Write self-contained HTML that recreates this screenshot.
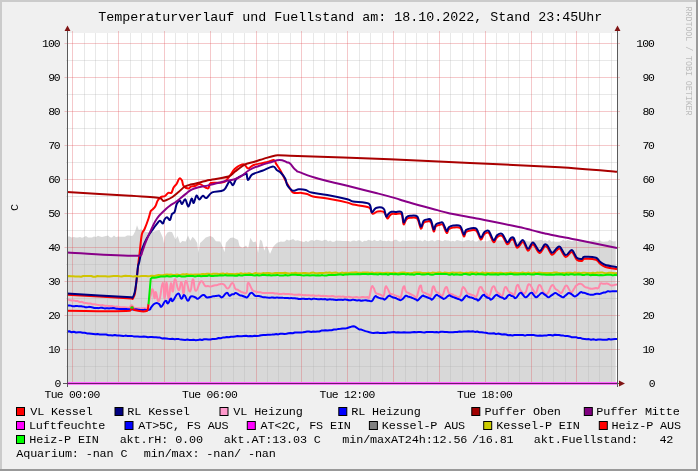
<!DOCTYPE html><html><head><meta charset="utf-8"><style>html,body{margin:0;padding:0;background:#f0f0f0;overflow:hidden}svg{display:block;will-change:transform}</style></head><body><svg width="698" height="471" viewBox="0 0 698 471"><rect x="0" y="0" width="698" height="471" fill="#f0f0f0"/><rect x="0" y="0" width="698" height="2" fill="#cbcbcb"/><rect x="0" y="0" width="2" height="471" fill="#cbcbcb"/><rect x="0" y="469" width="698" height="2" fill="#999999"/><rect x="696" y="0" width="2" height="471" fill="#999999"/><rect x="67" y="33" width="550" height="350" fill="#ffffff"/><path d="M67.5,383.5 L67.5,236.5 L69.6,236.6 L71.7,237.4 L73.8,237.0 L75.8,237.6 L77.9,237.5 L80.0,237.0 L82.0,237.8 L84.0,237.1 L86.0,235.9 L88.0,237.4 L90.0,237.6 L92.0,237.4 L94.0,236.6 L96.0,236.9 L98.0,235.7 L100.0,236.5 L102.0,237.1 L104.0,236.5 L106.0,235.9 L108.0,235.5 L110.0,237.2 L112.0,237.6 L114.0,235.6 L116.0,237.2 L118.0,236.4 L120.0,236.8 L125.0,236.8 L127.1,235.6 L129.2,235.6 L131.3,236.0 L133.0,235.6 L135.3,231.0 L137.0,225.3 L138.8,229.9 L141.0,229.3 L146.0,232.0 L151.4,232.2 L155.9,231.0 L159.4,229.9 L162.8,237.5 L164.0,243.7 L165.1,236.6 L167.4,232.4 L169.7,231.8 L172.0,232.1 L175.4,239.4 L177.7,236.1 L180.0,243.2 L182.3,241.0 L185.7,241.6 L188.0,235.6 L190.3,240.7 L192.6,236.8 L194.9,239.3 L197.2,243.0 L198.4,253.0 L200.1,243.1 L201.8,241.4 L205.8,237.6 L210.1,236.1 L213.0,237.2 L215.9,241.2 L220.2,241.6 L223.0,247.7 L224.5,252.2 L225.9,242.8 L230.2,237.9 L233.1,237.6 L238.1,240.0 L239.5,246.1 L242.4,247.9 L246.0,245.6 L248.1,248.5 L250.3,237.8 L253.1,242.2 L256.0,241.4 L258.1,253.1 L260.0,239.4 L262.0,241.0 L264.3,250.7 L266.0,245.7 L267.9,248.2 L270.0,254.1 L272.9,247.2 L275.0,244.8 L277.2,242.8 L280.8,241.6 L282.8,241.7 L284.8,241.6 L286.8,239.5 L288.8,240.4 L290.8,240.0 L293.1,239.0 L295.4,240.8 L297.7,240.2 L300.0,241.0 L302.0,241.6 L304.0,241.9 L306.0,240.8 L308.0,241.9 L310.1,240.4 L312.1,239.9 L314.1,241.0 L316.1,239.8 L318.1,240.1 L320.1,240.6 L322.1,241.0 L324.1,240.0 L326.1,239.8 L328.2,241.6 L330.2,240.4 L332.2,241.8 L334.2,241.7 L336.2,240.5 L338.2,240.7 L340.2,240.8 L342.2,241.1 L344.2,241.0 L346.2,240.9 L348.3,241.1 L350.3,241.8 L352.3,240.8 L354.3,240.6 L356.3,241.3 L358.3,240.2 L360.3,240.4 L362.3,241.9 L364.3,240.8 L366.4,240.9 L368.4,239.7 L370.4,240.6 L372.4,241.0 L374.4,239.7 L376.4,241.1 L378.4,241.1 L380.4,239.8 L382.4,241.1 L384.5,240.7 L386.5,241.2 L388.5,240.5 L390.5,241.3 L392.5,241.3 L394.5,239.7 L396.5,239.8 L398.5,241.2 L400.5,241.8 L402.6,240.3 L404.6,240.7 L406.6,241.0 L408.6,240.4 L410.6,240.5 L412.6,240.4 L414.6,240.5 L416.6,241.0 L418.6,240.4 L420.6,240.5 L422.7,241.4 L424.7,239.8 L426.7,241.0 L428.7,241.3 L430.7,240.4 L432.7,240.2 L434.7,241.5 L436.7,240.2 L438.7,240.1 L440.8,240.7 L442.8,241.2 L444.8,239.9 L446.8,240.4 L448.8,240.4 L450.8,241.5 L452.8,240.7 L454.8,241.6 L456.8,240.1 L458.9,240.4 L460.9,241.1 L462.9,241.6 L464.9,240.7 L466.9,240.2 L468.9,240.0 L470.9,240.9 L472.9,240.1 L474.9,241.5 L477.0,241.5 L479.0,240.1 L481.0,240.3 L483.0,241.5 L485.0,241.1 L487.0,241.5 L489.0,240.5 L491.0,240.0 L493.0,240.3 L495.1,241.4 L497.1,240.3 L499.1,240.5 L501.1,240.6 L503.1,240.6 L505.1,240.6 L507.1,241.7 L509.1,240.0 L511.1,239.7 L513.1,241.8 L515.2,241.6 L517.2,241.9 L519.2,240.7 L521.2,241.8 L523.2,241.7 L525.2,240.2 L527.2,241.3 L529.2,241.5 L531.2,241.2 L533.3,240.8 L535.3,240.3 L537.3,240.5 L539.3,240.2 L541.3,239.8 L543.3,241.0 L545.3,240.3 L547.3,241.5 L549.3,239.8 L551.4,241.7 L553.4,241.2 L555.4,241.7 L557.4,241.7 L559.4,241.7 L561.4,241.0 L563.4,239.7 L565.4,241.3 L567.4,240.1 L569.5,240.4 L571.5,241.2 L573.5,240.9 L575.5,240.6 L577.5,241.8 L579.5,241.0 L581.5,240.5 L583.5,240.3 L585.5,241.6 L587.5,240.7 L589.6,241.4 L591.6,240.5 L593.6,240.1 L595.6,240.9 L597.6,241.5 L599.6,240.1 L601.6,241.4 L603.6,241.7 L605.6,241.5 L607.7,241.5 L609.7,239.7 L611.7,241.1 L613.7,241.6 L615.7,241.0 L615.7,383.5 Z" fill="#d8d8d8"/><path d="M84.5 33V383 M95.5 33V383 M107.5 33V383 M130.5 33V383 M141.5 33V383 M152.5 33V383 M175.5 33V383 M187.5 33V383 M198.5 33V383 M221.5 33V383 M233.5 33V383 M244.5 33V383 M267.5 33V383 M278.5 33V383 M290.5 33V383 M313.5 33V383 M324.5 33V383 M336.5 33V383 M359.5 33V383 M370.5 33V383 M382.5 33V383 M405.5 33V383 M416.5 33V383 M427.5 33V383 M450.5 33V383 M462.5 33V383 M473.5 33V383 M496.5 33V383 M508.5 33V383 M519.5 33V383 M542.5 33V383 M553.5 33V383 M565.5 33V383 M588.5 33V383 M599.5 33V383 M611.5 33V383" stroke="rgb(173,173,173)" stroke-opacity="0.28" stroke-width="1" fill="none"/><path d="M66 366.5H618 M66 332.5H618 M66 298.5H618 M66 264.5H618 M66 230.5H618 M66 196.5H618 M66 162.5H618 M66 128.5H618 M66 94.5H618 M66 60.5H618" stroke="rgb(173,173,173)" stroke-opacity="0.28" stroke-width="1" fill="none"/><path d="M72.5 31V383 M118.5 31V383 M164.5 31V383 M210.5 31V383 M256.5 31V383 M301.5 31V383 M347.5 31V383 M393.5 31V383 M439.5 31V383 M485.5 31V383 M531.5 31V383 M576.5 31V383 M64.5 383.5H620 M64.5 349.5H620 M64.5 315.5H620 M64.5 281.5H620 M64.5 247.5H620 M64.5 213.5H620 M64.5 179.5H620 M64.5 145.5H620 M64.5 111.5H620 M64.5 77.5H620 M64.5 43.5H620" stroke="rgb(222,72,78)" stroke-opacity="0.3" stroke-width="1" fill="none"/><path d="M67.0,294.8 C77.7,295.4 120.3,297.8 131.3,298.4 C133.0,299.0 132.4,299.3 133.0,298.4 C133.6,297.5 134.4,296.4 135.0,293.0 C135.6,289.6 136.3,282.7 136.8,278.0 C137.3,273.3 137.8,269.0 138.2,265.0 C138.6,261.0 138.9,259.1 139.5,254.0 C140.1,248.9 141.0,238.7 141.8,234.5 C142.7,230.3 143.4,231.8 144.6,229.0 C145.8,226.2 147.7,221.0 148.7,218.0 C149.7,215.0 150.1,212.4 150.8,211.0 C151.5,209.6 152.0,210.1 152.8,209.3 C153.6,208.5 154.7,207.4 155.5,206.0 C156.3,204.6 156.7,202.3 157.6,200.8 C158.5,199.3 159.6,197.9 160.8,197.1 C162.0,196.3 163.8,196.7 165.0,196.0 C166.2,195.3 167.1,193.3 168.2,192.8 C169.3,192.3 170.5,193.7 171.4,192.8 C172.3,191.9 172.7,189.0 173.6,187.5 C174.5,186.0 175.7,185.3 176.7,183.8 C177.7,182.3 178.5,179.0 179.4,178.5 C180.3,178.0 181.3,179.3 182.0,180.6 C182.7,181.8 182.5,184.7 183.6,186.0 C184.7,187.3 187.2,188.5 188.4,188.6 C189.6,188.7 189.9,186.9 191.0,186.5 C192.1,186.1 193.6,186.3 194.8,186.0 C196.0,185.7 197.0,184.7 198.0,184.4 C199.0,184.1 199.3,183.8 200.7,184.4 C202.1,185.0 205.2,187.4 206.5,188.0 C207.8,188.6 207.9,188.8 208.6,188.0 C209.3,187.2 208.6,184.0 210.8,183.0 C213.3,182.0 220.4,183.6 223.7,182.2 C227.0,180.8 228.9,176.7 230.8,174.4 C232.7,172.1 232.9,170.3 235.1,168.6 C237.2,166.9 241.5,164.3 243.7,164.3 C245.8,164.3 246.3,168.5 248.0,168.6 C249.7,168.7 250.6,166.1 253.7,165.0 C256.8,163.9 263.2,163.0 266.6,162.2 C270.0,161.4 272.2,159.8 273.8,160.0 C275.4,160.2 274.8,161.7 276.0,163.6 C277.2,165.5 279.2,168.3 281.0,171.5 C282.8,174.7 285.5,180.8 286.7,183.0 C287.9,185.2 287.3,183.8 288.0,185.0 C288.7,186.2 290.1,188.8 291.0,190.1 C291.9,191.4 291.9,192.4 293.6,192.9 C295.4,193.4 299.2,192.7 301.5,192.9 C303.8,193.1 305.3,193.4 307.2,194.0 C309.1,194.6 309.6,195.7 313.0,196.5 C316.4,197.3 321.6,197.6 327.3,198.6 C333.0,199.6 343.1,201.6 347.4,202.6 C351.7,203.6 349.5,203.8 353.1,204.6 C356.7,205.4 365.6,205.8 368.8,207.3 C372.0,208.8 371.0,213.0 372.4,213.7 C373.8,214.4 375.6,211.9 377.4,211.6 C379.2,211.2 381.6,211.1 383.0,211.6 C384.4,212.1 384.8,213.3 385.5,214.5 C386.2,215.7 386.8,218.4 387.5,218.6 C388.2,218.8 388.8,216.5 389.6,215.7 C390.4,214.9 391.5,214.1 392.5,213.8 C393.5,213.5 394.0,213.9 395.5,214.0 C397.0,214.1 400.1,212.5 401.5,214.2 C402.9,215.9 402.8,223.5 403.6,224.3 C404.4,225.1 405.4,220.3 406.5,219.2 C407.6,218.1 408.2,217.9 410.0,217.8 C411.8,217.7 415.4,216.7 417.2,218.5 C419.0,220.3 419.7,227.9 420.8,228.6 C421.9,229.3 422.6,224.0 423.7,222.8 C424.8,221.6 426.1,221.5 427.3,221.4 C428.5,221.3 429.8,220.4 430.9,222.1 C432.0,223.8 432.9,230.7 433.7,231.4 C434.5,232.1 434.8,227.5 435.9,226.4 C437.0,225.3 439.0,224.9 440.2,224.7 C441.4,224.5 441.9,223.6 443.0,225.0 C444.1,226.4 445.6,232.2 446.6,232.9 C447.6,233.6 447.7,230.2 448.8,229.3 C449.9,228.4 451.2,227.8 453.1,227.6 C455.0,227.4 458.4,226.6 460.2,228.1 C462.0,229.6 462.8,235.7 463.8,236.4 C464.8,237.1 464.9,233.1 466.0,232.1 C467.1,231.1 468.6,230.6 470.3,230.4 C472.0,230.2 474.7,229.2 476.4,230.7 C478.1,232.2 479.4,238.9 480.7,239.5 C482.0,240.1 483.0,235.3 484.3,234.2 C485.6,233.1 487.1,231.5 488.6,232.8 C490.2,234.1 492.2,241.4 493.6,242.1 C495.0,242.8 495.8,238.1 497.2,237.1 C498.6,236.1 500.5,234.8 502.2,236.0 C503.9,237.2 505.8,243.6 507.2,244.3 C508.6,245.0 509.7,240.7 510.8,240.0 C511.9,239.3 512.6,238.7 513.7,240.0 C514.8,241.3 515.8,247.5 517.3,247.8 C518.8,248.2 521.2,241.6 523.0,242.1 C524.8,242.6 526.3,250.3 528.0,250.7 C529.7,251.1 531.1,244.1 533.0,244.5 C534.9,244.9 537.6,252.6 539.5,252.9 C541.4,253.2 543.2,247.5 544.5,246.6 C545.8,245.7 546.2,246.2 547.5,247.6 C548.8,249.0 550.5,254.3 552.0,254.8 C553.5,255.3 555.2,251.5 556.5,250.5 C557.8,249.5 558.5,247.6 560.0,248.7 C561.5,249.8 563.7,256.6 565.7,257.1 C567.7,257.7 569.9,251.6 571.8,252.0 C573.6,252.4 575.1,258.2 576.8,259.7 C578.5,261.2 580.6,261.1 581.9,261.0 C583.2,260.9 582.1,259.0 584.5,258.8 C586.9,258.6 593.5,258.9 596.0,259.7 C598.5,260.5 598.3,262.3 599.8,263.5 C601.3,264.7 602.0,265.8 604.9,266.7 C607.8,267.6 615.0,268.8 617.0,269.2" fill="none" stroke="#ff0000" stroke-width="2" stroke-linejoin="round" stroke-linecap="butt"/><path d="M67.0,293.6 C77.7,294.2 120.3,296.6 131.3,297.2 C132.8,297.8 132.2,298.1 132.8,297.2 C133.4,296.3 134.2,294.9 134.8,291.9 C135.5,288.9 136.2,283.2 136.7,279.0 C137.2,274.8 137.6,269.2 138.0,266.4 C138.4,263.6 138.5,265.1 139.2,262.3 C139.9,259.5 140.7,253.5 142.0,249.4 C143.3,245.3 145.2,241.3 147.0,238.0 C148.8,234.7 151.1,231.7 152.8,229.3 C154.5,226.9 155.9,225.0 157.1,223.6 C158.3,222.2 159.0,220.7 160.0,220.7 C161.0,220.7 162.2,223.8 162.9,223.6 C163.7,223.4 163.8,220.6 164.5,219.5 C165.2,218.4 166.1,217.2 167.0,217.3 C167.9,217.4 169.2,220.6 170.0,220.0 C170.8,219.4 171.2,215.3 172.0,214.0 C172.8,212.7 173.8,213.7 174.6,212.0 C175.4,210.3 175.8,205.9 176.7,204.0 C177.6,202.1 179.1,200.8 180.0,200.8 C180.9,200.8 181.1,204.3 182.0,204.0 C182.9,203.7 184.1,198.8 185.2,199.2 C186.3,199.6 187.3,206.7 188.4,206.6 C189.5,206.5 190.7,199.3 191.6,198.7 C192.5,198.1 192.9,203.5 193.7,203.0 C194.5,202.5 195.5,196.1 196.4,195.5 C197.3,194.9 198.2,199.3 199.3,199.4 C200.4,199.5 201.7,196.0 202.9,195.8 C204.1,195.6 204.9,198.6 206.5,198.0 C208.1,197.4 209.3,193.6 212.2,192.3 C215.1,191.0 220.8,191.9 223.7,190.1 C226.6,188.3 227.8,182.3 229.4,181.5 C231.0,180.7 231.8,185.6 233.0,185.1 C234.2,184.6 234.6,180.5 236.5,178.7 C238.4,176.9 242.7,175.2 244.4,174.4 C246.1,173.6 245.9,172.7 246.5,173.6 C247.1,174.5 247.0,179.9 248.0,180.0 C249.0,180.1 249.9,175.9 252.3,174.4 C254.7,172.9 258.9,172.1 262.3,170.8 C265.8,169.5 270.6,166.6 273.0,166.5 C275.4,166.4 275.4,168.9 276.7,170.0 C278.0,171.1 279.6,171.6 281.0,173.0 C282.4,174.4 284.3,176.7 285.3,178.7 C286.3,180.7 286.2,183.1 287.2,185.0 C288.2,186.9 290.3,189.1 291.5,190.0 C292.7,190.9 293.2,190.8 294.4,190.7 C295.6,190.6 296.8,189.4 298.7,189.3 C300.6,189.2 303.7,189.4 305.8,190.0 C307.9,190.6 307.9,191.8 311.5,192.6 C315.1,193.4 321.3,193.9 327.3,195.0 C333.3,196.1 343.1,198.2 347.4,199.3 C351.7,200.4 349.5,200.8 353.1,201.5 C356.7,202.2 365.7,201.9 368.8,203.7 C371.7,205.5 370.5,211.6 371.7,212.3 C372.9,213.0 374.0,208.6 376.0,208.0 C378.0,207.4 381.9,207.3 383.5,208.5 C385.1,209.7 385.1,213.7 385.6,215.0 C386.1,216.3 386.1,216.8 386.6,216.6 C387.1,216.4 387.8,214.5 388.6,213.7 C389.4,212.9 390.4,212.1 391.5,211.8 C392.6,211.5 393.8,211.9 395.5,212.0 C397.2,212.1 400.1,210.5 401.5,212.2 C402.9,213.9 402.8,221.5 403.6,222.3 C404.4,223.1 405.4,218.3 406.5,217.2 C407.6,216.1 408.2,215.9 410.0,215.8 C411.8,215.7 415.4,214.7 417.2,216.5 C419.0,218.3 419.7,225.9 420.8,226.6 C421.9,227.3 422.6,222.0 423.7,220.8 C424.8,219.6 426.1,219.5 427.3,219.4 C428.5,219.3 429.8,218.4 430.9,220.1 C432.0,221.8 432.9,228.7 433.7,229.4 C434.5,230.1 434.8,225.5 435.9,224.4 C437.0,223.3 439.0,222.9 440.2,222.7 C441.4,222.5 441.9,221.6 443.0,223.0 C444.1,224.4 445.6,230.2 446.6,230.9 C447.6,231.6 447.7,228.2 448.8,227.3 C449.9,226.4 451.2,225.8 453.1,225.6 C455.0,225.4 458.4,224.6 460.2,226.1 C462.0,227.6 462.8,233.7 463.8,234.4 C464.8,235.1 464.9,231.1 466.0,230.1 C467.1,229.1 468.6,228.6 470.3,228.4 C472.0,228.2 474.7,227.2 476.4,228.7 C478.1,230.2 479.4,236.9 480.7,237.5 C482.0,238.1 483.0,233.3 484.3,232.2 C485.6,231.1 487.1,229.5 488.6,230.8 C490.2,232.1 492.2,239.4 493.6,240.1 C495.0,240.8 495.8,236.1 497.2,235.1 C498.6,234.1 500.5,232.8 502.2,234.0 C503.9,235.2 505.8,241.6 507.2,242.3 C508.6,243.0 509.7,238.7 510.8,238.0 C511.9,237.3 512.6,236.7 513.7,238.0 C514.8,239.3 515.8,245.5 517.3,245.8 C518.8,246.2 521.2,239.6 523.0,240.1 C524.8,240.6 526.3,248.3 528.0,248.7 C529.7,249.1 531.1,242.1 533.0,242.5 C534.9,242.9 537.6,250.6 539.5,250.9 C541.4,251.2 543.2,245.5 544.5,244.6 C545.8,243.7 546.2,244.2 547.5,245.6 C548.8,247.0 550.5,252.3 552.0,252.8 C553.5,253.3 555.2,249.5 556.5,248.5 C557.8,247.5 558.5,245.6 560.0,246.7 C561.5,247.8 563.7,254.5 565.7,255.1 C567.7,255.7 569.9,249.6 571.8,250.0 C573.6,250.4 575.1,256.2 576.8,257.7 C578.5,259.2 580.6,259.1 581.9,259.0 C583.2,258.9 582.1,257.0 584.5,256.8 C586.9,256.6 593.5,256.9 596.0,257.7 C598.5,258.5 598.3,260.3 599.8,261.5 C601.3,262.7 602.0,263.8 604.9,264.7 C607.8,265.6 615.0,266.8 617.0,267.2" fill="none" stroke="#000080" stroke-width="2" stroke-linejoin="round" stroke-linecap="butt"/><path d="M67.0,299.3 C67.6,299.4 68.0,299.5 69.1,299.8 C70.3,300.1 70.1,300.2 71.3,300.4 C72.4,300.5 72.3,300.2 73.4,300.4 C74.6,300.5 74.4,300.7 75.6,300.9 C76.7,301.1 76.6,300.9 77.7,301.1 C78.9,301.4 78.7,301.7 79.8,301.9 C81.0,302.1 80.8,301.7 82.0,301.9 C83.1,302.2 83.0,302.6 84.1,302.9 C85.3,303.2 85.1,302.9 86.3,303.1 C87.4,303.2 87.3,303.4 88.4,303.5 C89.6,303.7 89.4,303.4 90.6,303.6 C91.7,303.8 91.6,304.1 92.7,304.3 C93.8,304.5 93.7,304.2 94.7,304.3 C95.8,304.5 95.7,304.5 96.8,304.7 C97.9,304.9 97.7,305.0 98.8,305.1 C99.9,305.3 99.8,305.1 100.9,305.2 C102.0,305.2 101.8,305.0 102.9,305.2 C104.0,305.4 103.9,305.7 105.0,305.8 C106.0,306.0 105.9,305.8 107.0,305.8 C108.1,305.9 108.0,305.9 109.0,306.0 C110.1,306.0 110.0,305.9 111.1,306.0 C112.2,306.1 112.0,306.0 113.1,306.3 C114.2,306.5 114.1,306.7 115.2,306.8 C116.3,306.9 116.1,306.5 117.2,306.6 C118.3,306.6 118.2,306.8 119.3,307.0 C120.3,307.2 120.2,307.1 121.3,307.2 C122.4,307.3 122.3,307.3 123.3,307.3 C124.4,307.4 124.3,307.2 125.4,307.3 C126.5,307.3 126.4,307.5 127.5,307.6 C128.5,307.6 128.4,308.1 129.5,307.5 C130.6,306.9 130.3,305.2 131.6,305.3 C132.9,305.4 132.9,307.1 134.2,307.9 C135.5,308.7 135.2,308.1 136.3,308.3 C137.5,308.4 137.4,308.3 138.5,308.3 C139.6,308.4 139.5,308.4 140.6,308.4 C141.8,308.4 141.7,308.2 142.8,308.2 C143.9,308.1 143.8,308.1 144.9,308.2 C146.1,308.3 146.2,309.7 147.1,308.6 C148.0,307.5 147.6,307.4 148.5,304.0 C149.4,300.6 149.4,299.9 150.5,296.0 C151.6,292.1 151.5,288.7 152.6,289.3 C153.7,289.9 153.6,297.6 154.5,298.3 C155.4,299.0 154.6,291.3 155.8,292.0 C157.0,292.7 157.1,303.2 159.0,300.8 C160.9,298.4 161.3,283.7 162.8,283.0 C164.3,282.3 163.7,298.5 164.7,298.3 C165.7,298.1 165.6,282.1 166.6,282.3 C167.6,282.5 167.5,298.7 168.6,299.0 C169.7,299.3 169.8,285.5 170.9,283.5 C172.0,281.5 171.8,292.6 172.9,291.5 C174.0,290.4 173.5,279.7 175.0,279.3 C176.5,278.9 176.9,289.2 178.6,290.0 C180.3,290.8 180.2,281.2 181.5,282.2 C182.8,283.2 182.5,293.9 183.6,293.6 C184.7,293.3 184.1,281.6 185.8,281.0 C187.5,280.4 188.1,292.0 190.0,291.5 C191.9,291.0 191.4,279.5 192.9,279.3 C194.4,279.1 193.7,290.2 195.8,290.8 C197.9,291.4 198.3,282.8 200.8,281.5 C203.3,280.2 203.2,284.6 205.1,285.8 C207.0,287.0 206.4,285.9 207.9,286.1 C209.5,286.3 209.5,286.6 210.8,286.5 C212.1,286.4 211.8,286.2 213.0,285.8 C214.1,285.5 214.0,285.4 215.1,285.2 C216.2,285.0 216.1,285.3 217.2,285.1 C218.4,284.8 217.7,284.5 219.4,284.3 C221.1,284.1 221.4,283.2 223.7,284.3 C226.0,285.4 225.7,289.0 228.0,288.6 C230.3,288.2 230.4,282.9 232.3,282.9 C234.2,282.9 233.8,286.8 235.2,288.6 C236.6,290.4 236.3,288.9 237.6,289.6 C238.9,290.3 238.7,290.5 240.0,291.2 C241.3,291.9 240.6,291.9 242.4,292.2 C244.2,292.5 245.2,294.7 246.7,292.2 C248.1,289.7 246.7,283.5 248.1,282.9 C249.6,282.3 250.5,287.7 252.4,290.0 C254.3,292.3 253.7,290.8 255.2,291.4 C256.8,291.9 256.7,292.0 258.1,292.2 C259.5,292.4 259.2,292.0 260.4,292.2 C261.6,292.4 261.5,292.7 262.7,292.9 C263.9,293.1 263.9,292.9 265.0,292.9 C266.1,292.9 265.9,292.9 267.0,293.0 C268.1,293.0 267.9,292.9 269.0,293.0 C270.1,293.0 269.9,293.0 271.0,293.1 C272.1,293.1 271.9,293.0 273.0,293.1 C274.1,293.2 273.9,293.4 275.0,293.5 C276.1,293.6 275.9,293.4 277.0,293.5 C278.1,293.6 277.9,293.8 279.0,293.9 C280.1,294.1 279.9,294.1 281.0,294.0 C282.1,294.0 281.9,293.7 283.0,293.7 C284.1,293.7 283.9,293.9 285.0,294.0 C286.1,294.1 285.9,294.1 287.0,294.1 C288.1,294.1 287.9,294.1 289.0,294.1 C290.1,294.1 289.9,294.2 291.0,294.3 C292.1,294.3 291.9,294.2 293.0,294.4 C294.1,294.5 293.9,294.7 295.0,294.8 C296.1,294.8 295.9,294.7 297.0,294.7 C298.1,294.6 297.9,294.6 299.0,294.6 C300.1,294.7 299.9,294.7 301.0,294.8 C302.1,294.9 301.9,295.0 303.0,295.1 C304.1,295.2 303.9,295.1 305.0,295.1 C306.1,295.2 305.9,295.3 307.0,295.3 C308.1,295.3 307.9,295.1 309.0,295.2 C310.1,295.3 309.9,295.5 311.0,295.5 C312.1,295.6 311.9,295.3 313.0,295.3 C314.1,295.4 313.9,295.6 315.0,295.7 C316.1,295.8 315.9,295.8 317.0,295.7 C318.1,295.7 317.9,295.5 319.0,295.6 C320.1,295.6 319.9,295.9 321.0,296.0 C322.1,296.1 321.9,295.8 323.0,295.8 C324.1,295.9 323.9,295.9 325.0,296.0 C326.1,296.1 325.9,296.1 327.0,296.1 C328.1,296.2 327.9,296.2 329.0,296.2 C330.1,296.2 329.9,296.2 331.0,296.2 C332.1,296.1 331.9,295.9 333.0,296.0 C334.1,296.1 333.9,296.4 335.0,296.6 C336.1,296.7 335.9,296.7 337.0,296.7 C338.1,296.7 337.9,296.5 339.0,296.5 C340.1,296.5 339.9,296.7 341.0,296.7 C342.1,296.7 341.9,296.5 343.0,296.6 C344.1,296.7 343.9,296.9 345.0,297.0 C346.1,297.1 345.9,297.1 347.0,297.0 C348.1,296.9 347.9,296.7 349.0,296.8 C350.1,296.9 349.9,297.1 351.0,297.2 C352.1,297.4 351.9,297.4 353.0,297.4 C354.1,297.4 353.9,297.3 355.0,297.2 C356.1,297.1 356.0,297.0 357.0,297.1 C358.1,297.2 358.0,297.5 359.1,297.5 C360.2,297.5 360.0,297.3 361.1,297.2 C362.2,297.1 362.1,297.0 363.2,297.0 C364.3,297.0 364.1,297.3 365.2,297.3 C366.3,297.4 366.2,297.1 367.3,297.1 C368.3,297.1 368.2,299.8 369.3,297.2 C370.4,294.6 370.4,289.7 371.5,287.2 C372.6,284.7 372.5,286.4 373.6,287.9 C374.7,289.4 374.5,291.3 375.8,292.9 C377.1,294.5 377.0,293.5 378.4,294.0 C379.8,294.5 379.7,294.4 381.1,294.9 C382.5,295.4 382.5,297.8 383.7,295.8 C384.9,293.8 384.4,289.1 385.4,287.2 C386.4,285.3 386.2,286.8 387.5,288.5 C388.8,290.2 388.8,292.1 390.1,293.6 C391.4,295.1 391.1,293.7 392.2,294.1 C393.4,294.5 393.2,294.6 394.4,295.1 C395.5,295.6 395.4,295.6 396.5,296.0 C397.7,296.3 397.5,296.1 398.7,296.5 C399.8,296.8 399.5,299.9 400.8,297.2 C402.1,294.5 402.3,288.0 403.7,286.5 C405.1,285.0 404.7,289.9 405.9,291.5 C407.1,293.1 406.9,292.0 408.0,292.7 C409.2,293.3 409.0,293.4 410.2,294.0 C411.3,294.6 411.2,294.3 412.3,294.9 C413.5,295.4 413.3,295.4 414.5,296.1 C415.6,296.7 415.1,299.9 416.6,297.2 C418.1,294.5 418.7,287.3 420.2,285.8 C421.7,284.3 421.2,289.7 422.3,291.5 C423.4,293.3 423.3,292.0 424.4,292.6 C425.6,293.2 425.5,293.3 426.6,293.8 C427.7,294.4 427.6,294.0 428.8,294.5 C429.9,295.1 429.7,297.9 430.9,295.8 C432.1,293.7 431.8,287.6 433.1,286.5 C434.4,285.4 434.6,289.8 435.9,291.5 C437.2,293.2 436.9,291.9 438.1,292.7 C439.2,293.5 439.1,293.7 440.2,294.5 C441.4,295.4 440.9,297.8 442.4,295.8 C443.9,293.8 444.3,288.0 446.0,287.2 C447.7,286.4 447.5,291.1 448.8,292.9 C450.1,294.7 449.8,293.4 450.9,293.9 C452.0,294.4 451.8,294.2 452.9,294.7 C454.0,295.2 453.1,295.3 455.0,295.8 C456.9,296.3 458.1,298.4 460.0,296.5 C461.9,294.6 461.1,290.9 462.2,288.6 C463.3,286.3 463.0,286.8 464.3,287.9 C465.6,289.0 465.8,291.3 467.2,292.9 C468.6,294.5 468.3,293.5 469.5,294.0 C470.8,294.6 470.6,294.5 471.9,294.9 C473.1,295.4 472.9,295.2 474.2,295.6 C475.4,296.0 474.9,298.7 476.5,296.5 C478.1,294.3 478.2,288.5 480.1,287.2 C482.0,285.9 482.0,289.7 483.7,291.5 C485.4,293.3 485.0,292.8 486.5,293.9 C488.1,295.1 487.7,297.8 489.4,295.8 C491.1,293.8 491.1,287.6 493.0,286.5 C494.9,285.4 494.9,289.5 496.6,291.5 C498.3,293.5 497.9,292.7 499.5,293.9 C501.0,295.0 500.8,297.6 502.3,295.8 C503.8,294.0 503.5,288.3 505.2,287.2 C506.9,286.1 507.0,289.9 508.7,291.5 C510.4,293.1 510.1,292.3 511.6,293.1 C513.1,293.9 513.0,296.6 514.5,294.4 C516.0,292.2 515.6,286.0 517.3,285.0 C519.0,284.0 518.8,288.7 520.9,290.8 C523.0,292.9 523.1,294.6 525.2,292.9 C527.3,291.2 526.7,285.1 528.8,284.3 C530.9,283.5 531.2,287.7 533.1,290.0 C535.0,292.3 534.3,294.2 536.0,292.9 C537.7,291.6 537.4,285.2 539.5,285.0 C541.6,284.8 541.7,289.9 543.8,292.2 C545.9,294.5 545.2,295.4 547.4,293.6 C549.6,291.8 549.8,286.7 551.9,285.4 C554.0,284.1 553.6,287.4 555.3,288.8 C557.0,290.2 556.7,289.7 558.2,290.8 C559.8,291.9 559.7,293.5 561.2,293.0 C562.7,292.5 562.4,290.9 563.8,288.9 C565.1,286.9 564.9,285.4 566.3,285.4 C567.7,285.4 567.5,287.1 568.8,288.9 C570.2,290.7 570.0,292.2 571.4,292.2 C572.8,292.2 572.6,290.8 574.0,288.9 C575.3,287.1 574.7,286.8 576.5,285.4 C578.3,284.0 578.4,283.3 580.7,283.7 C583.0,284.1 583.3,286.0 585.0,287.0 C586.7,288.0 585.9,287.2 587.0,287.5 C588.1,287.8 587.9,287.8 589.0,288.2 C590.1,288.5 589.8,288.7 591.0,288.8 C592.2,288.9 592.2,288.7 593.5,288.5 C594.9,288.3 594.7,288.2 596.1,288.0 C597.4,287.9 597.5,289.1 598.6,287.9 C599.7,286.7 599.2,284.8 600.3,283.7 C601.4,282.6 601.5,283.8 602.8,283.8 C604.2,283.8 604.0,283.8 605.4,283.7 C606.7,283.7 606.3,283.3 607.9,283.7 C609.5,284.1 609.6,285.1 611.3,285.4 C613.0,285.7 612.6,285.1 614.1,284.9 C615.7,284.6 616.2,284.6 617.0,284.5" fill="none" stroke="#ff88aa" stroke-width="2" stroke-linejoin="round" stroke-linecap="butt"/><path d="M67.0,305.5 C67.6,305.5 68.0,305.3 69.1,305.4 C70.3,305.5 70.1,305.5 71.3,305.8 C72.4,306.0 72.3,306.3 73.4,306.3 C74.6,306.4 74.4,306.1 75.6,306.0 C76.7,305.9 76.6,306.0 77.7,306.1 C78.9,306.1 78.7,306.2 79.8,306.3 C81.0,306.3 80.8,306.3 82.0,306.4 C83.1,306.5 83.0,306.5 84.1,306.7 C85.3,307.0 85.1,307.3 86.3,307.3 C87.4,307.3 87.3,306.9 88.4,306.9 C89.6,306.8 89.4,306.9 90.6,307.1 C91.7,307.3 91.6,307.3 92.7,307.5 C93.8,307.7 93.6,307.8 94.7,307.9 C95.8,308.0 95.7,308.0 96.8,308.0 C97.8,308.1 97.7,308.2 98.8,308.1 C99.9,308.0 99.7,307.8 100.8,307.7 C101.9,307.6 101.8,307.7 102.9,307.9 C103.9,308.1 103.8,308.3 104.9,308.4 C106.0,308.5 105.8,308.1 106.9,308.2 C108.0,308.2 107.9,308.4 109.0,308.4 C110.0,308.4 109.9,308.3 111.0,308.2 C112.1,308.1 111.9,308.1 113.0,308.1 C114.1,308.2 114.0,308.2 115.0,308.4 C116.1,308.6 116.0,308.7 117.1,308.8 C118.2,308.9 118.0,308.9 119.1,308.9 C120.2,308.9 120.1,308.9 121.1,308.9 C122.2,308.9 122.1,308.9 123.2,308.9 C124.3,308.9 124.1,309.0 125.2,309.0 C126.3,309.1 126.2,309.0 127.2,309.1 C128.3,309.1 128.2,309.2 129.3,309.2 C130.4,309.3 130.2,309.2 131.3,309.3 C132.4,309.4 132.4,309.6 133.6,309.6 C134.8,309.6 134.6,309.3 135.8,309.3 C137.0,309.3 136.9,309.5 138.1,309.7 C139.3,309.9 139.1,309.9 140.3,310.0 C141.5,310.1 141.4,310.1 142.6,310.0 C143.8,310.0 143.6,309.7 144.8,309.7 C146.0,309.7 145.7,310.1 147.1,310.0 C148.5,309.9 148.9,310.0 150.0,309.3 C151.1,308.6 150.0,308.8 151.3,307.2 C152.7,305.6 153.1,304.3 155.2,303.4 C157.3,302.5 157.3,303.1 159.0,304.0 C160.7,304.9 159.8,307.5 161.5,306.6 C163.2,305.7 163.7,301.7 165.4,300.8 C167.1,299.9 166.6,304.0 168.0,303.4 C169.4,302.8 169.4,299.4 170.7,298.7 C172.0,298.0 171.0,302.2 172.9,300.8 C174.8,299.4 175.6,294.2 177.9,293.6 C180.2,293.0 179.8,298.3 181.5,298.7 C183.2,299.1 182.6,294.5 184.3,295.1 C186.0,295.7 186.2,300.4 187.9,300.8 C189.6,301.2 188.9,297.5 190.8,296.5 C192.7,295.5 193.2,296.6 195.1,297.2 C197.0,297.8 195.9,299.3 198.0,298.7 C200.1,298.1 200.7,295.5 203.0,295.1 C205.3,294.7 205.0,296.6 206.5,297.2 C208.0,297.8 207.5,297.4 208.7,297.3 C209.8,297.2 209.7,297.2 210.8,297.0 C211.9,296.7 211.8,296.5 212.9,296.3 C214.1,296.0 214.0,296.2 215.1,296.1 C216.2,296.0 216.1,295.9 217.2,295.8 C218.4,295.7 218.1,295.4 219.4,295.8 C220.7,296.2 220.4,298.0 222.3,297.2 C224.2,296.4 224.7,293.3 226.6,292.9 C228.5,292.5 228.2,295.4 229.5,295.8 C230.8,296.2 230.5,294.9 231.6,294.5 C232.8,294.1 232.6,294.6 233.8,294.2 C234.9,293.8 234.4,292.7 235.9,292.9 C237.4,293.1 237.8,294.3 239.5,295.1 C241.2,295.9 240.7,295.3 242.1,295.7 C243.5,296.2 243.4,296.4 244.8,296.8 C246.2,297.2 245.7,298.2 247.4,297.2 C249.1,296.2 248.9,293.3 251.0,292.9 C253.1,292.5 253.5,295.0 255.3,295.8 C257.1,296.6 256.4,295.8 257.7,295.9 C259.0,296.0 258.9,295.8 260.1,296.2 C261.4,296.5 261.3,296.8 262.6,297.1 C263.9,297.4 263.8,297.1 265.0,297.2 C266.2,297.3 265.9,297.4 267.0,297.5 C268.1,297.6 267.9,297.7 269.0,297.7 C270.1,297.7 269.9,297.6 271.0,297.6 C272.1,297.5 271.9,297.5 273.0,297.5 C274.1,297.6 273.9,297.8 275.0,297.8 C276.1,297.7 275.9,297.4 277.0,297.4 C278.1,297.4 277.9,297.7 279.0,297.8 C280.1,297.9 279.9,297.8 281.0,297.8 C282.1,297.8 281.9,297.6 283.0,297.7 C284.1,297.7 283.9,298.0 285.0,298.1 C286.1,298.1 285.9,297.9 287.0,297.9 C288.1,298.0 287.9,298.1 289.0,298.2 C290.1,298.2 289.9,298.1 291.0,298.1 C292.1,298.1 291.9,298.1 293.0,298.2 C294.1,298.2 293.9,298.2 295.0,298.3 C296.1,298.4 295.9,298.4 297.0,298.5 C298.1,298.7 297.9,298.8 299.0,298.9 C300.1,299.0 299.9,299.0 301.0,298.9 C302.1,298.9 301.9,298.7 303.0,298.7 C304.1,298.7 303.9,298.9 305.0,299.0 C306.1,299.1 305.9,299.1 307.0,299.0 C308.1,299.0 307.9,298.7 309.0,298.7 C310.1,298.8 309.9,299.2 311.0,299.2 C312.1,299.3 311.9,298.9 313.0,298.8 C314.1,298.7 313.9,298.7 315.0,298.8 C316.1,298.8 315.9,298.9 317.0,299.1 C318.1,299.2 317.9,299.3 319.0,299.3 C320.1,299.3 319.9,299.1 321.0,299.1 C322.1,299.1 321.9,299.3 323.0,299.3 C324.1,299.4 323.9,299.1 325.0,299.1 C326.1,299.2 325.9,299.6 327.0,299.7 C328.1,299.7 327.9,299.4 329.0,299.4 C330.1,299.3 329.9,299.4 331.0,299.4 C332.1,299.5 331.9,299.4 333.0,299.5 C334.1,299.6 333.9,299.7 335.0,299.8 C336.1,299.9 335.9,300.0 337.0,300.0 C338.1,299.9 337.9,299.8 339.0,299.7 C340.1,299.6 339.9,299.6 341.0,299.7 C342.1,299.7 341.9,299.9 343.0,299.9 C344.1,299.8 343.9,299.5 345.0,299.5 C346.1,299.5 345.9,299.7 347.0,299.8 C348.1,300.0 347.9,300.1 349.0,300.2 C350.1,300.3 349.9,300.3 351.0,300.2 C352.1,300.1 351.9,299.8 353.0,299.7 C354.1,299.7 353.9,299.9 355.0,300.1 C356.1,300.3 356.0,300.4 357.1,300.4 C358.3,300.5 358.2,300.1 359.3,300.2 C360.4,300.3 360.3,300.7 361.4,300.7 C362.6,300.7 362.5,300.5 363.6,300.4 C364.7,300.3 364.6,300.3 365.8,300.3 C366.9,300.4 366.8,300.5 367.9,300.7 C369.0,300.8 368.9,300.9 370.1,301.0 C371.2,301.0 370.9,302.0 372.2,300.8 C373.5,299.6 373.7,297.5 375.0,296.5 C376.3,295.5 375.9,296.7 377.0,297.0 C378.1,297.4 377.9,297.6 379.0,297.9 C380.1,298.3 379.9,298.2 381.0,298.4 C382.1,298.6 381.9,298.5 383.0,298.7 C384.1,299.0 383.5,300.2 385.0,299.4 C386.5,298.6 387.2,296.6 388.7,295.8 C390.2,295.0 389.6,296.0 390.7,296.4 C391.8,296.8 391.7,296.8 392.7,297.2 C393.8,297.6 393.7,297.5 394.8,297.9 C395.8,298.2 395.7,298.1 396.8,298.6 C397.8,299.0 397.7,299.1 398.8,299.5 C399.9,299.9 399.6,300.4 400.8,300.1 C402.0,299.8 402.0,299.4 403.4,298.2 C404.7,297.1 404.7,296.2 405.9,295.8 C407.1,295.4 406.8,296.3 407.9,296.6 C409.0,296.9 408.9,296.7 409.9,297.0 C411.0,297.3 410.9,297.3 411.9,297.8 C413.0,298.2 412.9,298.1 414.0,298.6 C415.0,299.0 414.9,299.1 416.0,299.5 C417.1,299.9 416.3,301.1 418.0,300.1 C419.7,299.1 420.6,296.8 422.3,295.8 C424.0,294.8 423.2,296.0 424.3,296.3 C425.4,296.6 425.3,296.5 426.3,296.9 C427.4,297.4 427.3,297.4 428.4,297.8 C429.4,298.3 429.3,298.1 430.4,298.5 C431.5,298.9 430.9,300.3 432.4,299.4 C433.9,298.5 434.5,296.1 436.0,295.1 C437.5,294.1 437.0,295.2 438.1,295.7 C439.3,296.2 439.1,296.3 440.2,296.9 C441.4,297.6 441.2,297.6 442.4,298.1 C443.5,298.6 442.8,299.4 444.5,298.7 C446.2,298.0 447.1,296.1 448.8,295.5 C450.5,294.9 449.8,295.8 451.0,296.3 C452.2,296.7 452.1,296.7 453.3,297.2 C454.5,297.7 454.3,297.6 455.5,298.0 C456.7,298.5 456.5,298.4 457.7,298.8 C458.9,299.2 458.8,299.3 460.0,299.6 C461.2,300.0 460.6,301.1 462.2,300.1 C463.8,299.1 464.3,296.8 465.8,295.8 C467.3,294.8 466.8,296.1 467.9,296.5 C469.1,296.9 469.0,297.0 470.1,297.4 C471.2,297.7 471.1,297.3 472.2,297.7 C473.4,298.1 473.3,298.5 474.4,298.9 C475.5,299.4 475.4,299.0 476.6,299.3 C477.7,299.6 477.0,301.2 478.7,300.1 C480.4,299.0 481.3,296.2 483.0,295.1 C484.7,294.0 484.0,295.5 485.1,296.2 C486.3,296.8 486.1,297.0 487.2,297.5 C488.4,298.1 488.2,297.7 489.4,298.2 C490.5,298.7 489.8,300.2 491.5,299.4 C493.2,298.6 494.0,296.1 495.8,295.1 C497.6,294.1 496.9,295.2 498.1,295.8 C499.4,296.3 499.2,296.6 500.5,297.1 C501.8,297.7 501.6,297.4 502.9,297.9 C504.1,298.3 503.6,299.4 505.2,298.7 C506.8,298.0 507.1,295.9 508.7,295.1 C510.3,294.3 509.8,295.3 511.1,295.7 C512.4,296.2 512.2,296.1 513.5,296.6 C514.8,297.2 514.1,298.9 515.9,297.9 C517.7,296.9 518.3,293.7 520.2,292.9 C522.1,292.1 521.5,293.8 523.0,294.9 C524.6,296.1 523.8,297.7 525.9,297.2 C528.0,296.7 528.9,293.6 530.9,292.9 C532.9,292.2 532.1,293.6 533.5,294.7 C534.8,295.9 534.6,297.0 536.0,297.2 C537.4,297.4 537.3,296.4 538.9,295.3 C540.4,294.1 540.3,293.2 541.7,292.9 C543.1,292.6 542.8,293.4 544.0,294.1 C545.2,294.9 545.0,294.8 546.2,295.7 C547.4,296.5 547.3,297.3 548.5,297.3 C549.7,297.3 549.6,296.6 550.8,295.8 C552.0,295.0 551.8,295.2 553.0,294.4 C554.2,293.7 554.0,293.0 555.3,293.0 C556.6,293.0 556.5,293.6 557.8,294.4 C559.2,295.2 559.0,295.2 560.4,296.0 C561.7,296.7 561.7,297.3 562.9,297.3 C564.1,297.3 563.8,296.8 564.9,296.0 C566.0,295.2 565.8,295.2 566.9,294.4 C568.0,293.6 567.6,293.0 568.9,293.0 C570.2,293.0 570.3,293.5 571.8,294.4 C573.4,295.3 573.2,296.3 574.8,296.4 C576.4,296.5 576.2,295.8 577.8,294.6 C579.3,293.5 579.4,292.7 580.7,292.2 C582.0,291.7 581.7,292.6 582.8,292.8 C583.9,293.0 583.7,292.7 584.8,292.9 C585.9,293.1 585.8,293.3 586.9,293.7 C588.0,294.1 587.8,294.1 588.9,294.4 C590.0,294.7 589.9,294.6 591.0,294.7 C592.1,294.8 592.0,295.0 593.1,294.8 C594.2,294.7 594.1,294.3 595.2,294.0 C596.3,293.7 596.2,293.8 597.3,293.8 C598.4,293.7 598.3,294.0 599.4,293.9 C600.5,293.8 600.4,293.6 601.5,293.2 C602.7,292.9 602.5,292.8 603.6,292.5 C604.8,292.3 604.6,292.6 605.8,292.2 C606.9,291.9 606.7,291.5 607.9,291.3 C609.1,291.1 609.0,291.6 610.2,291.5 C611.4,291.5 611.2,291.3 612.5,291.2 C613.7,291.1 613.5,291.2 614.7,291.2 C615.9,291.3 616.4,291.3 617.0,291.3" fill="none" stroke="#0000ff" stroke-width="2" stroke-linejoin="round" stroke-linecap="butt"/><path d="M67.0,191.9 C75.4,192.4 117.7,195.0 130.0,195.8 C142.3,196.6 154.8,197.4 159.2,198.1 C163.0,198.8 162.1,200.5 163.0,200.8 C163.9,201.1 164.7,200.8 166.0,200.3 C167.3,199.8 170.8,198.1 172.5,197.0 C174.2,195.9 177.3,193.1 178.9,191.8 C180.5,190.5 182.8,187.9 184.2,187.0 C185.6,186.1 188.1,185.3 189.5,184.9 C190.9,184.5 192.4,184.3 195.0,183.7 C197.6,183.1 204.8,181.1 209.3,180.1 C213.8,179.1 225.3,177.6 228.7,176.5 C232.1,175.4 232.9,173.1 235.1,171.5 C237.3,169.9 242.4,165.6 245.1,164.3 C247.8,163.0 252.3,162.4 255.2,161.5 C258.1,160.6 263.9,158.7 266.6,157.9 C269.3,157.1 274.0,155.9 275.5,155.6 C277.0,155.3 275.6,155.3 277.5,155.3 C279.4,155.3 277.5,155.2 290.0,155.7 C305.0,156.2 366.0,158.3 390.0,159.3 C414.0,160.3 447.3,161.9 470.0,163.0 C492.7,164.1 540.4,166.1 560.0,167.3 C579.6,168.5 609.4,171.2 617.0,171.8" fill="none" stroke="#aa0000" stroke-width="2" stroke-linejoin="round" stroke-linecap="butt"/><path d="M67.0,252.5 C86.4,253.4 119.8,256.2 139.9,255.8 C142.5,255.4 140.9,254.8 142.5,251.0 C144.1,247.2 143.6,247.3 146.0,241.4 C148.4,235.5 148.6,235.1 151.5,229.0 C154.4,222.9 153.7,223.3 157.0,218.5 C160.3,213.7 160.6,214.3 163.9,211.0 C167.2,207.7 165.9,208.8 169.3,206.2 C172.7,203.6 172.5,204.4 176.7,201.3 C180.9,198.2 181.2,197.5 185.2,194.4 C189.2,191.3 187.7,191.7 191.6,189.7 C195.5,187.7 195.3,188.2 200.0,187.0 C204.7,185.8 203.0,186.6 209.3,185.1 C215.6,183.6 216.0,183.4 223.7,181.5 C231.4,179.6 231.1,181.1 238.0,178.0 C244.9,174.9 243.7,173.3 249.4,170.0 C255.1,166.7 253.7,167.9 259.5,165.8 C265.3,163.7 265.7,163.7 271.0,162.2 C276.3,160.7 275.3,160.0 279.5,160.0 C283.7,160.0 283.9,161.2 286.7,162.2 C289.5,163.2 287.6,161.5 290.0,163.6 C292.4,165.7 292.6,167.5 295.7,170.0 C298.8,172.5 295.7,170.6 301.5,172.9 C307.6,175.2 306.5,175.3 318.7,178.7 C330.9,182.1 332.0,182.0 347.3,185.8 C362.6,189.6 363.5,189.8 376.0,193.0 C388.5,196.2 385.6,195.4 394.3,197.9 C403.0,200.4 397.2,198.9 408.7,202.2 C420.2,205.5 425.9,207.0 437.3,210.1 C448.7,213.2 442.9,211.8 451.6,213.7 C460.3,215.6 461.3,215.5 470.0,217.2 C478.7,218.9 472.8,217.7 484.3,220.0 C495.8,222.3 500.4,223.1 513.0,225.8 C525.6,228.5 523.1,228.0 531.6,230.1 C540.1,232.2 538.5,232.0 545.0,233.5 C551.5,235.0 547.5,234.1 556.0,235.8 C564.5,237.5 560.5,236.5 576.8,239.8 C593.1,243.1 606.3,245.9 617.0,248.1" fill="none" stroke="#880088" stroke-width="2" stroke-linejoin="round" stroke-linecap="butt"/><rect x="67" y="382" width="550" height="1" fill="#ff60ff"/><rect x="67" y="384" width="550" height="1" fill="#ff80ff"/><path d="M67.0,331.5 C67.0,331.5 69.3,331.3 69.3,331.3 C69.3,331.3 71.5,332.2 71.5,332.2 C71.5,332.2 73.8,331.7 73.8,331.7 C73.8,331.7 76.0,332.5 76.0,332.5 C76.0,332.5 78.3,332.3 78.3,332.3 C78.3,332.3 80.5,332.2 80.5,332.2 C80.5,332.2 82.6,332.7 82.6,332.7 C82.6,332.7 84.8,332.7 84.8,332.7 C84.8,332.7 86.9,333.4 86.9,333.4 C86.9,333.4 89.0,333.4 89.0,333.4 C89.0,333.4 91.2,333.7 91.2,333.7 C91.2,333.7 93.3,334.0 93.3,334.0 C93.3,334.0 95.5,334.3 95.5,334.3 C95.5,334.3 97.7,334.1 97.7,334.1 C97.7,334.1 99.8,334.4 99.8,334.4 C99.8,334.4 102.0,334.6 102.0,334.6 C102.0,334.6 104.1,334.6 104.1,334.6 C104.1,334.6 106.2,334.5 106.2,334.5 C106.2,334.5 108.4,335.2 108.4,335.2 C108.4,335.2 110.5,335.2 110.5,335.2 C110.5,335.2 112.7,335.5 112.7,335.5 C112.7,335.5 114.8,335.1 114.8,335.1 C114.8,335.1 117.0,335.6 117.0,335.6 C117.0,335.6 119.2,335.6 119.2,335.6 C119.2,335.6 121.3,335.8 121.3,335.8 C121.3,335.8 123.3,336.1 123.3,336.1 C123.3,336.1 125.4,335.6 125.4,335.6 C125.4,335.6 127.5,335.9 127.5,335.9 C127.5,335.9 129.5,336.1 129.5,336.1 C129.5,336.1 131.6,335.9 131.6,335.9 C131.6,335.9 133.6,336.4 133.6,336.4 C133.6,336.4 135.7,336.6 135.7,336.6 C135.7,336.6 137.7,336.4 137.7,336.4 C137.7,336.4 139.8,336.7 139.8,336.7 C139.8,336.7 141.8,336.7 141.8,336.7 C141.8,336.7 143.8,336.5 143.8,336.5 C143.8,336.5 145.9,336.7 145.9,336.7 C145.9,336.7 147.9,337.3 147.9,337.3 C147.9,337.3 150.0,337.0 150.0,337.0 C150.0,337.0 152.0,337.0 152.0,337.0 C152.0,337.0 154.0,337.3 154.0,337.3 C154.0,337.3 156.0,337.2 156.0,337.2 C156.0,337.2 158.0,337.5 158.0,337.5 C158.0,337.5 160.0,337.6 160.0,337.6 C160.0,337.6 162.0,338.4 162.0,338.4 C162.0,338.4 164.0,338.2 164.0,338.2 C164.0,338.2 166.1,338.5 166.1,338.5 C166.1,338.5 168.2,338.8 168.2,338.8 C168.2,338.8 170.3,339.0 170.3,339.0 C170.3,339.0 172.5,338.8 172.5,338.8 C172.5,338.8 174.6,339.2 174.6,339.2 C174.6,339.2 176.7,339.0 176.7,339.0 C176.7,339.0 178.8,339.1 178.8,339.1 C178.8,339.1 180.9,339.6 180.9,339.6 C180.9,339.6 183.0,339.7 183.0,339.7 C183.0,339.7 185.2,339.9 185.2,339.9 C185.2,339.9 187.3,339.6 187.3,339.6 C187.3,339.6 189.4,340.0 189.4,340.0 C189.4,340.0 191.5,339.9 191.5,339.9 C191.5,339.9 193.6,339.8 193.6,339.8 C193.6,339.8 195.7,340.2 195.7,340.2 C195.7,340.2 197.8,340.1 197.8,340.1 C197.8,340.1 199.9,339.5 199.9,339.5 C199.9,339.5 202.0,340.0 202.0,340.0 C202.0,340.0 204.1,339.3 204.1,339.3 C204.1,339.3 206.2,339.2 206.2,339.2 C206.2,339.2 208.3,339.6 208.3,339.6 C208.3,339.6 210.4,339.4 210.4,339.4 C210.4,339.4 212.5,339.0 212.5,339.0 C212.5,339.0 214.5,338.9 214.5,338.9 C214.5,338.9 216.6,338.7 216.6,338.7 C216.6,338.7 218.6,338.0 218.6,338.0 C218.6,338.0 220.7,338.2 220.7,338.2 C220.7,338.2 222.7,337.6 222.7,337.6 C222.7,337.6 224.8,337.5 224.8,337.5 C224.8,337.5 226.8,337.1 226.8,337.1 C226.8,337.1 228.8,337.2 228.8,337.2 C228.8,337.2 230.9,336.7 230.9,336.7 C230.9,336.7 233.1,336.8 233.1,336.8 C233.1,336.8 235.2,336.4 235.2,336.4 C235.2,336.4 237.4,336.1 237.4,336.1 C237.4,336.1 239.5,336.2 239.5,336.2 C239.5,336.2 241.7,336.2 241.7,336.2 C241.7,336.2 243.8,335.9 243.8,335.9 C243.8,335.9 246.0,335.8 246.0,335.8 C246.0,335.8 248.1,336.3 248.1,336.3 C248.1,336.3 250.3,336.1 250.3,336.1 C250.3,336.1 252.4,336.3 252.4,336.3 C252.4,336.3 254.6,335.8 254.6,335.8 C254.6,335.8 256.8,336.0 256.8,336.0 C256.8,336.0 259.0,335.8 259.0,335.8 C259.0,335.8 261.2,335.2 261.2,335.2 C261.2,335.2 263.4,334.9 263.4,334.9 C263.4,334.9 265.6,334.9 265.6,334.9 C265.6,334.9 267.8,334.8 267.8,334.8 C267.8,334.8 270.0,334.7 270.0,334.7 C270.0,334.7 272.1,334.6 272.1,334.6 C272.1,334.6 274.1,334.4 274.1,334.4 C274.1,334.4 276.2,334.1 276.2,334.1 C276.2,334.1 278.2,334.4 278.2,334.4 C278.2,334.4 280.3,333.8 280.3,333.8 C280.3,333.8 282.4,333.8 282.4,333.8 C282.4,333.8 284.4,334.0 284.4,334.0 C284.4,334.0 286.5,333.7 286.5,333.7 C286.5,333.7 288.6,333.2 288.6,333.2 C288.6,333.2 290.6,333.0 290.6,333.0 C290.6,333.0 292.7,333.3 292.7,333.3 C292.7,333.3 294.8,332.5 294.8,332.5 C294.8,332.5 296.8,332.5 296.8,332.5 C296.8,332.5 298.9,332.6 298.9,332.6 C298.9,332.6 300.9,332.5 300.9,332.5 C300.9,332.5 303.0,332.3 303.0,332.3 C303.0,332.3 305.0,331.9 305.0,331.9 C305.0,331.9 307.1,331.6 307.1,331.6 C307.1,331.6 309.1,331.6 309.1,331.6 C309.1,331.6 311.2,331.9 311.2,331.9 C311.2,331.9 313.2,331.5 313.2,331.5 C313.2,331.5 315.3,331.8 315.3,331.8 C315.3,331.8 317.3,331.5 317.3,331.5 C317.3,331.5 319.3,331.5 319.3,331.5 C319.3,331.5 321.4,330.6 321.4,330.6 C321.4,330.6 323.4,330.5 323.4,330.5 C323.4,330.5 325.5,330.3 325.5,330.3 C325.5,330.3 327.5,330.4 327.5,330.4 C327.5,330.4 329.6,330.2 329.6,330.2 C329.6,330.2 331.6,330.2 331.6,330.2 C331.6,330.2 333.9,329.5 333.9,329.5 C333.9,329.5 336.1,329.6 336.1,329.6 C336.1,329.6 338.4,328.9 338.4,328.9 C338.4,328.9 340.6,328.8 340.6,328.8 C340.6,328.8 342.9,328.4 342.9,328.4 C342.9,328.4 345.1,328.6 345.1,328.6 C345.1,328.6 347.4,328.0 347.4,328.0 C347.4,328.0 349.5,327.3 349.5,327.3 C349.5,327.3 351.7,326.6 351.7,326.6 C351.7,326.6 353.8,326.2 353.8,326.2 C353.8,326.2 355.0,326.6 355.0,326.6 C355.0,326.6 359.3,329.5 359.3,329.5 C359.3,329.5 361.3,329.6 361.3,329.6 C361.3,329.6 363.4,330.4 363.4,330.4 C363.4,330.4 365.4,331.1 365.4,331.1 C365.4,331.1 367.5,331.6 367.5,331.6 C367.5,331.6 369.5,332.3 369.5,332.3 C369.5,332.3 371.6,332.7 371.6,332.7 C371.6,332.7 373.6,333.0 373.6,333.0 C373.6,333.0 375.6,332.7 375.6,332.7 C375.6,332.7 377.7,332.6 377.7,332.6 C377.7,332.6 379.7,333.0 379.7,333.0 C379.7,333.0 381.7,333.0 381.7,333.0 C381.7,333.0 383.8,332.7 383.8,332.7 C383.8,332.7 385.8,332.9 385.8,332.9 C385.8,332.9 387.8,332.6 387.8,332.6 C387.8,332.6 389.9,332.4 389.9,332.4 C389.9,332.4 391.9,332.2 391.9,332.2 C391.9,332.2 393.9,332.0 393.9,332.0 C393.9,332.0 396.0,332.5 396.0,332.5 C396.0,332.5 398.0,332.3 398.0,332.3 C398.0,332.3 400.0,332.6 400.0,332.6 C400.0,332.6 402.1,332.6 402.1,332.6 C402.1,332.6 404.1,332.2 404.1,332.2 C404.1,332.2 406.1,332.4 406.1,332.4 C406.1,332.4 408.2,332.6 408.2,332.6 C408.2,332.6 410.2,332.5 410.2,332.5 C410.2,332.5 412.2,332.3 412.2,332.3 C412.2,332.3 414.3,332.1 414.3,332.1 C414.3,332.1 416.3,332.2 416.3,332.2 C416.3,332.2 418.4,331.9 418.4,331.9 C418.4,331.9 420.4,331.9 420.4,331.9 C420.4,331.9 422.4,332.3 422.4,332.3 C422.4,332.3 424.5,332.5 424.5,332.5 C424.5,332.5 426.5,332.1 426.5,332.1 C426.5,332.1 428.5,332.0 428.5,332.0 C428.5,332.0 430.6,332.0 430.6,332.0 C430.6,332.0 432.6,332.0 432.6,332.0 C432.6,332.0 434.6,332.3 434.6,332.3 C434.6,332.3 436.7,332.0 436.7,332.0 C436.7,332.0 438.7,332.4 438.7,332.4 C438.7,332.4 440.8,331.7 440.8,331.7 C440.8,331.7 442.8,331.8 442.8,331.8 C442.8,331.8 444.8,332.0 444.8,332.0 C444.8,332.0 446.9,331.9 446.9,331.9 C446.9,331.9 448.9,332.2 448.9,332.2 C448.9,332.2 450.9,332.2 450.9,332.2 C450.9,332.2 453.0,332.3 453.0,332.3 C453.0,332.3 455.0,331.9 455.0,331.9 C455.0,331.9 457.2,331.9 457.2,331.9 C457.2,331.9 459.5,331.4 459.5,331.4 C459.5,331.4 461.7,331.7 461.7,331.7 C461.7,331.7 463.9,331.6 463.9,331.6 C463.9,331.6 466.2,331.5 466.2,331.5 C466.2,331.5 468.4,331.3 468.4,331.3 C468.4,331.3 470.7,331.5 470.7,331.5 C470.7,331.5 472.9,331.3 472.9,331.3 C472.9,331.3 475.0,331.9 475.0,331.9 C475.0,331.9 477.2,331.5 477.2,331.5 C477.2,331.5 479.4,332.2 479.4,332.2 C479.4,332.2 481.5,332.2 481.5,332.2 C481.5,332.2 483.6,332.6 483.6,332.6 C483.6,332.6 485.8,332.8 485.8,332.8 C485.8,332.8 487.8,333.3 487.8,333.3 C487.8,333.3 489.9,333.5 489.9,333.5 C489.9,333.5 491.9,333.5 491.9,333.5 C491.9,333.5 493.9,333.3 493.9,333.3 C493.9,333.3 496.0,334.1 496.0,334.1 C496.0,334.1 498.0,333.6 498.0,333.6 C498.0,333.6 500.0,334.0 500.0,334.0 C500.0,334.0 502.1,334.5 502.1,334.5 C502.1,334.5 504.1,334.3 504.1,334.3 C504.1,334.3 506.1,334.5 506.1,334.5 C506.1,334.5 508.2,335.2 508.2,335.2 C508.2,335.2 510.2,335.0 510.2,335.0 C510.2,335.0 512.3,335.4 512.3,335.4 C512.3,335.4 514.5,334.9 514.5,334.9 C514.5,334.9 516.6,335.0 516.6,335.0 C516.6,335.0 518.7,335.0 518.7,335.0 C518.7,335.0 520.8,334.9 520.8,334.9 C520.8,334.9 523.0,335.0 523.0,335.0 C523.0,335.0 525.1,335.6 525.1,335.6 C525.1,335.6 527.2,334.9 527.2,334.9 C527.2,334.9 529.4,335.1 529.4,335.1 C529.4,335.1 531.5,335.1 531.5,335.1 C531.5,335.1 533.6,335.1 533.6,335.1 C533.6,335.1 535.7,335.4 535.7,335.4 C535.7,335.4 537.9,335.7 537.9,335.7 C537.9,335.7 540.0,335.5 540.0,335.5 C540.0,335.5 542.1,335.7 542.1,335.7 C542.1,335.7 544.2,335.5 544.2,335.5 C544.2,335.5 546.4,335.6 546.4,335.6 C546.4,335.6 548.5,334.9 548.5,334.9 C548.5,334.9 550.6,335.0 550.6,335.0 C550.6,335.0 552.8,335.5 552.8,335.5 C552.8,335.5 554.9,334.7 554.9,334.7 C554.9,334.7 557.0,335.0 557.0,335.0 C557.0,335.0 559.1,335.1 559.1,335.1 C559.1,335.1 561.2,335.5 561.2,335.5 C561.2,335.5 563.4,335.6 563.4,335.6 C563.4,335.6 565.5,336.1 565.5,336.1 C565.5,336.1 567.6,336.0 567.6,336.0 C567.6,336.0 569.8,336.4 569.8,336.4 C569.8,336.4 571.9,337.3 571.9,337.3 C571.9,337.3 574.0,337.2 574.0,337.2 C574.0,337.2 576.1,337.2 576.1,337.2 C576.1,337.2 578.2,338.1 578.2,338.1 C578.2,338.1 580.4,337.9 580.4,337.9 C580.4,337.9 582.5,338.8 582.5,338.8 C582.5,338.8 584.6,338.9 584.6,338.9 C584.6,338.9 586.8,339.2 586.8,339.2 C586.8,339.2 588.9,339.1 588.9,339.1 C588.9,339.1 591.0,339.7 591.0,339.7 C591.0,339.7 593.4,339.3 593.4,339.3 C593.4,339.3 595.7,339.9 595.7,339.9 C595.7,339.9 598.1,339.4 598.1,339.4 C598.1,339.4 600.4,339.5 600.4,339.5 C600.4,339.5 602.8,339.7 602.8,339.7 C602.8,339.7 604.8,339.8 604.8,339.8 C604.8,339.8 606.9,339.8 606.9,339.8 C606.9,339.8 608.9,339.0 608.9,339.0 C608.9,339.0 610.9,339.6 610.9,339.6 C610.9,339.6 612.9,339.2 612.9,339.2 C612.9,339.2 615.0,338.9 615.0,338.9 C615.0,338.9 617.0,338.9 617.0,338.9" fill="none" stroke="#0000ff" stroke-width="2" stroke-linejoin="round" stroke-linecap="butt"/><path d="M67.0,276.5 C67.0,276.5 69.0,276.1 69.0,276.1 C69.0,276.1 71.0,276.3 71.0,276.3 C71.0,276.3 73.1,276.3 73.1,276.3 C73.1,276.3 75.1,276.5 75.1,276.5 C75.1,276.5 77.1,276.4 77.1,276.4 C77.1,276.4 79.1,276.4 79.1,276.4 C79.1,276.4 81.2,276.7 81.2,276.7 C81.2,276.7 83.2,276.0 83.2,276.0 C83.2,276.0 85.2,276.0 85.2,276.0 C85.2,276.0 87.2,276.1 87.2,276.1 C87.2,276.1 89.3,276.1 89.3,276.1 C89.3,276.1 91.3,276.0 91.3,276.0 C91.3,276.0 93.3,276.8 93.3,276.8 C93.3,276.8 95.3,276.7 95.3,276.7 C95.3,276.7 97.4,276.0 97.4,276.0 C97.4,276.0 99.4,276.3 99.4,276.3 C99.4,276.3 101.4,276.2 101.4,276.2 C101.4,276.2 103.4,276.2 103.4,276.2 C103.4,276.2 105.5,276.2 105.5,276.2 C105.5,276.2 107.5,276.4 107.5,276.4 C107.5,276.4 109.5,276.4 109.5,276.4 C109.5,276.4 111.5,276.2 111.5,276.2 C111.5,276.2 113.6,276.0 113.6,276.0 C113.6,276.0 115.6,276.1 115.6,276.1 C115.6,276.1 117.6,275.9 117.6,275.9 C117.6,275.9 119.6,276.3 119.6,276.3 C119.6,276.3 121.7,276.4 121.7,276.4 C121.7,276.4 123.7,276.1 123.7,276.1 C123.7,276.1 125.7,275.8 125.7,275.8 C125.7,275.8 127.7,275.9 127.7,275.9 C127.7,275.9 129.8,276.1 129.8,276.1 C129.8,276.1 131.8,276.3 131.8,276.3 C131.8,276.3 133.8,276.4 133.8,276.4 C133.8,276.4 135.8,276.1 135.8,276.1 C135.8,276.1 137.9,276.4 137.9,276.4 C137.9,276.4 139.9,276.3 139.9,276.3 C139.9,276.3 141.9,276.1 141.9,276.1 C141.9,276.1 143.9,276.0 143.9,276.0 C143.9,276.0 146.0,276.1 146.0,276.1 C146.0,276.1 148.0,276.3 148.0,276.3 C148.0,276.3 150.0,276.1 150.0,276.1 C150.0,276.1 152.1,275.8 152.1,275.8 C152.1,275.8 154.3,275.9 154.3,275.9 C154.3,275.9 156.4,275.5 156.4,275.5 C156.4,275.5 158.6,275.1 158.6,275.1 C158.6,275.1 160.7,275.2 160.7,275.2 C160.7,275.2 162.9,275.2 162.9,275.2 C162.9,275.2 165.0,274.8 165.0,274.8 C165.0,274.8 167.0,274.4 167.0,274.4 C167.0,274.4 169.0,274.7 169.0,274.7 C169.0,274.7 171.0,274.6 171.0,274.6 C171.0,274.6 173.0,275.0 173.0,275.0 C173.0,275.0 175.0,275.0 175.0,275.0 C175.0,275.0 177.0,274.5 177.0,274.5 C177.0,274.5 179.0,274.9 179.0,274.9 C179.0,274.9 181.0,274.8 181.0,274.8 C181.0,274.8 183.0,274.3 183.0,274.3 C183.0,274.3 185.0,274.5 185.0,274.5 C185.0,274.5 187.0,274.1 187.0,274.1 C187.0,274.1 189.0,274.7 189.0,274.7 C189.0,274.7 191.0,274.6 191.0,274.6 C191.0,274.6 193.0,274.7 193.0,274.7 C193.0,274.7 195.0,274.6 195.0,274.6 C195.0,274.6 197.0,274.5 197.0,274.5 C197.0,274.5 199.0,274.5 199.0,274.5 C199.0,274.5 201.0,274.3 201.0,274.3 C201.0,274.3 203.0,273.9 203.0,273.9 C203.0,273.9 205.0,274.3 205.0,274.3 C205.0,274.3 207.0,273.7 207.0,273.7 C207.0,273.7 209.0,273.8 209.0,273.8 C209.0,273.8 211.0,274.4 211.0,274.4 C211.0,274.4 213.0,273.7 213.0,273.7 C213.0,273.7 215.0,273.7 215.0,273.7 C215.0,273.7 217.0,273.7 217.0,273.7 C217.0,273.7 219.0,274.3 219.0,274.3 C219.0,274.3 221.0,273.7 221.0,273.7 C221.0,273.7 223.0,273.5 223.0,273.5 C223.0,273.5 225.0,274.2 225.0,274.2 C225.0,274.2 227.0,273.5 227.0,273.5 C227.0,273.5 229.0,274.1 229.0,274.1 C229.0,274.1 231.0,274.0 231.0,274.0 C231.0,274.0 233.0,274.1 233.0,274.1 C233.0,274.1 235.0,274.2 235.0,274.2 C235.0,274.2 237.0,273.8 237.0,273.8 C237.0,273.8 239.0,274.0 239.0,274.0 C239.0,274.0 241.0,273.2 241.0,273.2 C241.0,273.2 243.0,273.9 243.0,273.9 C243.0,273.9 245.0,273.6 245.0,273.6 C245.0,273.6 247.0,273.8 247.0,273.8 C247.0,273.8 249.0,273.2 249.0,273.2 C249.0,273.2 251.0,273.7 251.0,273.7 C251.0,273.7 253.0,273.9 253.0,273.9 C253.0,273.9 255.0,273.1 255.0,273.1 C255.0,273.1 257.0,273.3 257.0,273.3 C257.0,273.3 259.0,273.4 259.0,273.4 C259.0,273.4 261.0,273.7 261.0,273.7 C261.0,273.7 263.0,273.1 263.0,273.1 C263.0,273.1 265.0,273.3 265.0,273.3 C265.0,273.3 267.0,273.0 267.0,273.0 C267.0,273.0 269.0,273.0 269.0,273.0 C269.0,273.0 271.1,273.4 271.1,273.4 C271.1,273.4 273.1,273.5 273.1,273.5 C273.1,273.5 275.1,273.1 275.1,273.1 C275.1,273.1 277.1,273.1 277.1,273.1 C277.1,273.1 279.1,273.1 279.1,273.1 C279.1,273.1 281.2,273.1 281.2,273.1 C281.2,273.1 283.2,273.1 283.2,273.1 C283.2,273.1 285.2,272.8 285.2,272.8 C285.2,272.8 287.2,273.2 287.2,273.2 C287.2,273.2 289.3,273.6 289.3,273.6 C289.3,273.6 291.3,273.1 291.3,273.1 C291.3,273.1 293.3,273.3 293.3,273.3 C293.3,273.3 295.3,272.8 295.3,272.8 C295.3,272.8 297.3,273.3 297.3,273.3 C297.3,273.3 299.4,273.3 299.4,273.3 C299.4,273.3 301.4,273.2 301.4,273.2 C301.4,273.2 303.4,273.1 303.4,273.1 C303.4,273.1 305.4,273.0 305.4,273.0 C305.4,273.0 307.4,273.2 307.4,273.2 C307.4,273.2 309.5,273.4 309.5,273.4 C309.5,273.4 311.5,272.7 311.5,272.7 C311.5,272.7 313.5,272.6 313.5,272.6 C313.5,272.6 315.5,273.2 315.5,273.2 C315.5,273.2 317.6,273.3 317.6,273.3 C317.6,273.3 319.6,273.0 319.6,273.0 C319.6,273.0 321.6,272.9 321.6,272.9 C321.6,272.9 323.6,273.1 323.6,273.1 C323.6,273.1 325.6,272.6 325.6,272.6 C325.6,272.6 327.7,272.7 327.7,272.7 C327.7,272.7 329.7,272.6 329.7,272.6 C329.7,272.6 331.7,273.0 331.7,273.0 C331.7,273.0 333.7,272.7 333.7,272.7 C333.7,272.7 335.7,272.6 335.7,272.6 C335.7,272.6 337.8,273.0 337.8,273.0 C337.8,273.0 339.8,273.2 339.8,273.2 C339.8,273.2 341.8,272.6 341.8,272.6 C341.8,272.6 343.8,273.0 343.8,273.0 C343.8,273.0 345.9,272.7 345.9,272.7 C345.9,272.7 347.9,273.1 347.9,273.1 C347.9,273.1 349.9,272.8 349.9,272.8 C349.9,272.8 351.9,272.5 351.9,272.5 C351.9,272.5 353.9,272.5 353.9,272.5 C353.9,272.5 356.0,272.3 356.0,272.3 C356.0,272.3 358.0,272.7 358.0,272.7 C358.0,272.7 360.0,272.7 360.0,272.7 C360.0,272.7 362.0,272.6 362.0,272.6 C362.0,272.6 364.0,272.4 364.0,272.4 C364.0,272.4 366.0,272.6 366.0,272.6 C366.0,272.6 368.0,272.5 368.0,272.5 C368.0,272.5 370.0,273.0 370.0,273.0 C370.0,273.0 372.0,272.4 372.0,272.4 C372.0,272.4 374.1,273.2 374.1,273.2 C374.1,273.2 376.1,272.7 376.1,272.7 C376.1,272.7 378.1,272.8 378.1,272.8 C378.1,272.8 380.1,272.7 380.1,272.7 C380.1,272.7 382.1,273.0 382.1,273.0 C382.1,273.0 384.1,273.0 384.1,273.0 C384.1,273.0 386.1,272.8 386.1,272.8 C386.1,272.8 388.1,272.7 388.1,272.7 C388.1,272.7 390.1,272.9 390.1,272.9 C390.1,272.9 392.1,273.1 392.1,273.1 C392.1,273.1 394.1,272.7 394.1,272.7 C394.1,272.7 396.1,273.0 396.1,273.0 C396.1,273.0 398.1,273.2 398.1,273.2 C398.1,273.2 400.2,272.7 400.2,272.7 C400.2,272.7 402.2,272.5 402.2,272.5 C402.2,272.5 404.2,272.5 404.2,272.5 C404.2,272.5 406.2,272.9 406.2,272.9 C406.2,272.9 408.2,272.9 408.2,272.9 C408.2,272.9 410.2,273.2 410.2,273.2 C410.2,273.2 412.2,273.1 412.2,273.1 C412.2,273.1 414.2,272.5 414.2,272.5 C414.2,272.5 416.2,272.5 416.2,272.5 C416.2,272.5 418.2,272.6 418.2,272.6 C418.2,272.6 420.2,272.5 420.2,272.5 C420.2,272.5 422.2,273.0 422.2,273.0 C422.2,273.0 424.2,273.1 424.2,273.1 C424.2,273.1 426.3,273.1 426.3,273.1 C426.3,273.1 428.3,272.6 428.3,272.6 C428.3,272.6 430.3,273.1 430.3,273.1 C430.3,273.1 432.3,272.6 432.3,272.6 C432.3,272.6 434.3,272.7 434.3,272.7 C434.3,272.7 436.3,273.0 436.3,273.0 C436.3,273.0 438.3,272.4 438.3,272.4 C438.3,272.4 440.3,272.4 440.3,272.4 C440.3,272.4 442.3,273.1 442.3,273.1 C442.3,273.1 444.3,272.6 444.3,272.6 C444.3,272.6 446.3,272.7 446.3,272.7 C446.3,272.7 448.3,272.9 448.3,272.9 C448.3,272.9 450.4,273.0 450.4,273.0 C450.4,273.0 452.4,272.4 452.4,272.4 C452.4,272.4 454.4,272.7 454.4,272.7 C454.4,272.7 456.4,272.8 456.4,272.8 C456.4,272.8 458.4,272.8 458.4,272.8 C458.4,272.8 460.4,272.6 460.4,272.6 C460.4,272.6 462.4,272.9 462.4,272.9 C462.4,272.9 464.4,273.2 464.4,273.2 C464.4,273.2 466.4,272.7 466.4,272.7 C466.4,272.7 468.4,272.9 468.4,272.9 C468.4,272.9 470.4,272.5 470.4,272.5 C470.4,272.5 472.4,272.6 472.4,272.6 C472.4,272.6 474.4,273.0 474.4,273.0 C474.4,273.0 476.5,272.5 476.5,272.5 C476.5,272.5 478.5,273.2 478.5,273.2 C478.5,273.2 480.5,273.2 480.5,273.2 C480.5,273.2 482.5,272.5 482.5,272.5 C482.5,272.5 484.5,273.2 484.5,273.2 C484.5,273.2 486.5,272.7 486.5,272.7 C486.5,272.7 488.5,273.1 488.5,273.1 C488.5,273.1 490.5,273.1 490.5,273.1 C490.5,273.1 492.5,272.7 492.5,272.7 C492.5,272.7 494.5,273.0 494.5,273.0 C494.5,273.0 496.5,273.0 496.5,273.0 C496.5,273.0 498.5,273.1 498.5,273.1 C498.5,273.1 500.5,272.7 500.5,272.7 C500.5,272.7 502.6,273.1 502.6,273.1 C502.6,273.1 504.6,273.3 504.6,273.3 C504.6,273.3 506.6,273.0 506.6,273.0 C506.6,273.0 508.6,272.9 508.6,272.9 C508.6,272.9 510.6,272.5 510.6,272.5 C510.6,272.5 512.6,272.9 512.6,272.9 C512.6,272.9 514.6,272.7 514.6,272.7 C514.6,272.7 516.6,273.1 516.6,273.1 C516.6,273.1 518.6,273.0 518.6,273.0 C518.6,273.0 520.6,272.9 520.6,272.9 C520.6,272.9 522.6,272.6 522.6,272.6 C522.6,272.6 524.6,273.0 524.6,273.0 C524.6,273.0 526.6,273.0 526.6,273.0 C526.6,273.0 528.7,272.6 528.7,272.6 C528.7,272.6 530.7,273.3 530.7,273.3 C530.7,273.3 532.7,273.0 532.7,273.0 C532.7,273.0 534.7,272.6 534.7,272.6 C534.7,272.6 536.7,273.3 536.7,273.3 C536.7,273.3 538.7,272.6 538.7,272.6 C538.7,272.6 540.7,272.8 540.7,272.8 C540.7,272.8 542.7,273.1 542.7,273.1 C542.7,273.1 544.7,273.0 544.7,273.0 C544.7,273.0 546.7,273.0 546.7,273.0 C546.7,273.0 548.7,273.1 548.7,273.1 C548.7,273.1 550.7,272.9 550.7,272.9 C550.7,272.9 552.8,272.8 552.8,272.8 C552.8,272.8 554.8,272.6 554.8,272.6 C554.8,272.6 556.8,272.5 556.8,272.5 C556.8,272.5 558.8,273.1 558.8,273.1 C558.8,273.1 560.8,273.2 560.8,273.2 C560.8,273.2 562.8,273.0 562.8,273.0 C562.8,273.0 564.8,273.2 564.8,273.2 C564.8,273.2 566.8,272.8 566.8,272.8 C566.8,272.8 568.8,272.7 568.8,272.7 C568.8,272.7 570.8,272.8 570.8,272.8 C570.8,272.8 572.8,273.3 572.8,273.3 C572.8,273.3 574.8,272.5 574.8,272.5 C574.8,272.5 576.8,273.0 576.8,273.0 C576.8,273.0 578.9,272.7 578.9,272.7 C578.9,272.7 580.9,273.2 580.9,273.2 C580.9,273.2 582.9,272.8 582.9,272.8 C582.9,272.8 584.9,272.8 584.9,272.8 C584.9,272.8 586.9,272.9 586.9,272.9 C586.9,272.9 588.9,273.0 588.9,273.0 C588.9,273.0 590.9,273.2 590.9,273.2 C590.9,273.2 592.9,272.8 592.9,272.8 C592.9,272.8 594.9,273.3 594.9,273.3 C594.9,273.3 596.9,272.6 596.9,272.6 C596.9,272.6 598.9,272.8 598.9,272.8 C598.9,272.8 600.9,272.6 600.9,272.6 C600.9,272.6 602.9,272.6 602.9,272.6 C602.9,272.6 605.0,273.2 605.0,273.2 C605.0,273.2 607.0,273.2 607.0,273.2 C607.0,273.2 609.0,272.7 609.0,272.7 C609.0,272.7 611.0,272.7 611.0,272.7 C611.0,272.7 613.0,272.9 613.0,272.9 C613.0,272.9 615.0,273.2 615.0,273.2 C615.0,273.2 617.0,273.0 617.0,273.0" fill="none" stroke="#d0c400" stroke-width="2" stroke-linejoin="round" stroke-linecap="butt"/><path d="M67.0,310.8 C83.8,310.8 112.6,311.8 129.9,310.8 C132.0,309.8 130.9,307.4 132.0,307.2 C133.1,307.0 132.0,309.0 134.2,310.0 C138.2,311.0 143.3,312.3 147.1,310.8 C148.5,309.3 148.1,306.0 148.5,304.3" fill="none" stroke="#ff0000" stroke-width="2" stroke-linejoin="round" stroke-linecap="butt"/><path d="M148.5,304.3 C148.5,304.3 150.7,279.0 150.7,279.0 C150.7,279.0 152.0,277.6 152.0,277.6 C152.0,277.6 154.2,277.7 154.2,277.7 C154.2,277.7 156.3,277.4 156.3,277.4 C156.3,277.4 158.5,277.1 158.5,277.1 C158.5,277.1 160.7,276.5 160.7,276.5 C160.7,276.5 162.8,276.5 162.8,276.5 C162.8,276.5 165.0,276.4 165.0,276.4 C165.0,276.4 167.0,276.1 167.0,276.1 C167.0,276.1 169.0,276.4 169.0,276.4 C169.0,276.4 171.0,276.4 171.0,276.4 C171.0,276.4 173.0,276.0 173.0,276.0 C173.0,276.0 175.0,276.0 175.0,276.0 C175.0,276.0 177.0,276.5 177.0,276.5 C177.0,276.5 179.0,275.8 179.0,275.8 C179.0,275.8 181.0,276.4 181.0,276.4 C181.0,276.4 183.0,276.5 183.0,276.5 C183.0,276.5 185.0,276.5 185.0,276.5 C185.0,276.5 187.0,276.0 187.0,276.0 C187.0,276.0 189.0,276.1 189.0,276.1 C189.0,276.1 191.0,276.1 191.0,276.1 C191.0,276.1 193.0,276.1 193.0,276.1 C193.0,276.1 195.0,276.4 195.0,276.4 C195.0,276.4 197.0,276.1 197.0,276.1 C197.0,276.1 199.0,275.7 199.0,275.7 C199.0,275.7 201.0,276.2 201.0,276.2 C201.0,276.2 203.0,275.9 203.0,275.9 C203.0,275.9 205.0,275.9 205.0,275.9 C205.0,275.9 207.0,276.0 207.0,276.0 C207.0,276.0 209.0,275.3 209.0,275.3 C209.0,275.3 211.0,276.0 211.0,276.0 C211.0,276.0 213.0,275.9 213.0,275.9 C213.0,275.9 215.0,275.7 215.0,275.7 C215.0,275.7 217.0,275.7 217.0,275.7 C217.0,275.7 219.0,275.6 219.0,275.6 C219.0,275.6 221.0,275.3 221.0,275.3 C221.0,275.3 223.0,275.6 223.0,275.6 C223.0,275.6 225.0,275.1 225.0,275.1 C225.0,275.1 227.0,275.5 227.0,275.5 C227.0,275.5 229.0,275.6 229.0,275.6 C229.0,275.6 231.0,275.4 231.0,275.4 C231.0,275.4 233.0,275.5 233.0,275.5 C233.0,275.5 235.0,275.8 235.0,275.8 C235.0,275.8 237.0,275.7 237.0,275.7 C237.0,275.7 239.0,275.0 239.0,275.0 C239.0,275.0 241.0,275.6 241.0,275.6 C241.0,275.6 243.0,275.4 243.0,275.4 C243.0,275.4 245.0,274.9 245.0,274.9 C245.0,274.9 247.0,275.1 247.0,275.1 C247.0,275.1 249.0,275.0 249.0,275.0 C249.0,275.0 251.0,274.8 251.0,274.8 C251.0,274.8 253.0,275.2 253.0,275.2 C253.0,275.2 255.0,275.5 255.0,275.5 C255.0,275.5 257.0,275.0 257.0,275.0 C257.0,275.0 259.0,275.4 259.0,275.4 C259.0,275.4 261.0,275.2 261.0,275.2 C261.0,275.2 263.0,274.7 263.0,274.7 C263.0,274.7 265.0,275.0 265.0,275.0 C265.0,275.0 267.0,275.3 267.0,275.3 C267.0,275.3 269.1,275.1 269.1,275.1 C269.1,275.1 271.1,275.4 271.1,275.4 C271.1,275.4 273.2,275.3 273.2,275.3 C273.2,275.3 275.2,275.3 275.2,275.3 C275.2,275.3 277.3,274.9 277.3,274.9 C277.3,274.9 279.3,275.4 279.3,275.4 C279.3,275.4 281.4,275.5 281.4,275.5 C281.4,275.5 283.4,275.5 283.4,275.5 C283.4,275.5 285.4,275.1 285.4,275.1 C285.4,275.1 287.5,275.4 287.5,275.4 C287.5,275.4 289.5,275.2 289.5,275.2 C289.5,275.2 291.6,274.8 291.6,274.8 C291.6,274.8 293.6,274.8 293.6,274.8 C293.6,274.8 295.7,274.8 295.7,274.8 C295.7,274.8 297.7,275.0 297.7,275.0 C297.7,275.0 299.8,274.9 299.8,274.9 C299.8,274.9 301.8,275.3 301.8,275.3 C301.8,275.3 303.8,275.5 303.8,275.5 C303.8,275.5 305.9,275.3 305.9,275.3 C305.9,275.3 307.9,275.2 307.9,275.2 C307.9,275.2 310.0,275.5 310.0,275.5 C310.0,275.5 312.0,275.2 312.0,275.2 C312.0,275.2 314.1,275.3 314.1,275.3 C314.1,275.3 316.1,275.6 316.1,275.6 C316.1,275.6 318.2,275.3 318.2,275.3 C318.2,275.3 320.2,275.4 320.2,275.4 C320.2,275.4 322.3,275.1 322.3,275.1 C322.3,275.1 324.4,275.6 324.4,275.6 C324.4,275.6 326.5,275.4 326.5,275.4 C326.5,275.4 328.6,275.0 328.6,275.0 C328.6,275.0 330.7,275.0 330.7,275.0 C330.7,275.0 332.8,275.1 332.8,275.1 C332.8,275.1 334.9,275.1 334.9,275.1 C334.9,275.1 337.0,274.7 337.0,274.7 C337.0,274.7 339.1,274.4 339.1,274.4 C339.1,274.4 341.1,274.6 341.1,274.6 C341.1,274.6 343.2,275.0 343.2,275.0 C343.2,275.0 345.3,274.4 345.3,274.4 C345.3,274.4 347.4,274.6 347.4,274.6 C347.4,274.6 349.5,274.3 349.5,274.3 C349.5,274.3 351.6,274.3 351.6,274.3 C351.6,274.3 353.7,274.2 353.7,274.2 C353.7,274.2 355.8,274.3 355.8,274.3 C355.8,274.3 357.9,274.1 357.9,274.1 C357.9,274.1 360.0,274.3 360.0,274.3 C360.0,274.3 362.0,273.9 362.0,273.9 C362.0,273.9 364.0,273.9 364.0,273.9 C364.0,273.9 366.0,274.0 366.0,274.0 C366.0,274.0 368.0,274.3 368.0,274.3 C368.0,274.3 370.0,273.9 370.0,273.9 C370.0,273.9 372.0,273.9 372.0,273.9 C372.0,273.9 374.0,274.3 374.0,274.3 C374.0,274.3 376.0,274.2 376.0,274.2 C376.0,274.2 378.0,274.5 378.0,274.5 C378.0,274.5 380.0,273.9 380.0,273.9 C380.0,273.9 382.0,274.2 382.0,274.2 C382.0,274.2 384.0,274.2 384.0,274.2 C384.0,274.2 386.0,273.9 386.0,273.9 C386.0,273.9 388.0,274.7 388.0,274.7 C388.0,274.7 390.0,274.0 390.0,274.0 C390.0,274.0 392.0,273.9 392.0,273.9 C392.0,273.9 394.0,274.3 394.0,274.3 C394.0,274.3 396.0,274.0 396.0,274.0 C396.0,274.0 398.0,274.4 398.0,274.4 C398.0,274.4 400.0,274.2 400.0,274.2 C400.0,274.2 402.0,274.0 402.0,274.0 C402.0,274.0 404.0,273.9 404.0,273.9 C404.0,273.9 406.0,274.5 406.0,274.5 C406.0,274.5 408.0,274.1 408.0,274.1 C408.0,274.1 410.0,274.6 410.0,274.6 C410.0,274.6 412.0,274.3 412.0,274.3 C412.0,274.3 414.0,274.7 414.0,274.7 C414.0,274.7 416.0,274.1 416.0,274.1 C416.0,274.1 418.0,274.1 418.0,274.1 C418.0,274.1 420.0,274.1 420.0,274.1 C420.0,274.1 422.0,274.6 422.0,274.6 C422.0,274.6 424.0,274.4 424.0,274.4 C424.0,274.4 426.0,274.2 426.0,274.2 C426.0,274.2 428.0,273.9 428.0,273.9 C428.0,273.9 430.0,274.5 430.0,274.5 C430.0,274.5 432.0,274.7 432.0,274.7 C432.0,274.7 434.0,274.4 434.0,274.4 C434.0,274.4 436.0,273.9 436.0,273.9 C436.0,273.9 438.0,273.9 438.0,273.9 C438.0,273.9 440.0,273.9 440.0,273.9 C440.0,273.9 442.0,274.0 442.0,274.0 C442.0,274.0 444.0,273.9 444.0,273.9 C444.0,273.9 446.0,273.9 446.0,273.9 C446.0,273.9 448.0,274.4 448.0,274.4 C448.0,274.4 450.0,274.7 450.0,274.7 C450.0,274.7 452.0,274.0 452.0,274.0 C452.0,274.0 454.0,274.7 454.0,274.7 C454.0,274.7 456.0,274.3 456.0,274.3 C456.0,274.3 458.0,274.6 458.0,274.6 C458.0,274.6 460.0,274.7 460.0,274.7 C460.0,274.7 462.0,274.7 462.0,274.7 C462.0,274.7 464.0,273.9 464.0,273.9 C464.0,273.9 466.0,274.1 466.0,274.1 C466.0,274.1 468.0,274.4 468.0,274.4 C468.0,274.4 470.0,274.7 470.0,274.7 C470.0,274.7 472.0,273.9 472.0,273.9 C472.0,273.9 474.0,274.1 474.0,274.1 C474.0,274.1 476.0,274.6 476.0,274.6 C476.0,274.6 478.0,274.0 478.0,274.0 C478.0,274.0 480.0,274.2 480.0,274.2 C480.0,274.2 482.0,274.2 482.0,274.2 C482.0,274.2 484.0,274.5 484.0,274.5 C484.0,274.5 486.0,274.7 486.0,274.7 C486.0,274.7 488.0,274.0 488.0,274.0 C488.0,274.0 490.0,274.5 490.0,274.5 C490.0,274.5 492.0,274.5 492.0,274.5 C492.0,274.5 494.0,274.6 494.0,274.6 C494.0,274.6 496.0,274.3 496.0,274.3 C496.0,274.3 498.0,274.7 498.0,274.7 C498.0,274.7 500.0,274.2 500.0,274.2 C500.0,274.2 502.0,274.2 502.0,274.2 C502.0,274.2 504.0,274.1 504.0,274.1 C504.0,274.1 506.0,274.6 506.0,274.6 C506.0,274.6 508.0,274.3 508.0,274.3 C508.0,274.3 510.0,274.1 510.0,274.1 C510.0,274.1 512.0,274.0 512.0,274.0 C512.0,274.0 514.0,274.5 514.0,274.5 C514.0,274.5 516.0,274.4 516.0,274.4 C516.0,274.4 518.0,274.5 518.0,274.5 C518.0,274.5 520.0,274.2 520.0,274.2 C520.0,274.2 522.0,274.3 522.0,274.3 C522.0,274.3 524.0,274.0 524.0,274.0 C524.0,274.0 526.0,274.5 526.0,274.5 C526.0,274.5 528.0,273.9 528.0,273.9 C528.0,273.9 530.0,274.3 530.0,274.3 C530.0,274.3 532.0,274.5 532.0,274.5 C532.0,274.5 534.0,274.5 534.0,274.5 C534.0,274.5 536.0,273.9 536.0,273.9 C536.0,273.9 538.0,274.1 538.0,274.1 C538.0,274.1 540.0,274.3 540.0,274.3 C540.0,274.3 542.0,274.6 542.0,274.6 C542.0,274.6 544.1,274.5 544.1,274.5 C544.1,274.5 546.1,274.7 546.1,274.7 C546.1,274.7 548.1,274.7 548.1,274.7 C548.1,274.7 550.1,274.4 550.1,274.4 C550.1,274.4 552.2,274.8 552.2,274.8 C552.2,274.8 554.2,274.7 554.2,274.7 C554.2,274.7 556.2,274.3 556.2,274.3 C556.2,274.3 558.2,274.4 558.2,274.4 C558.2,274.4 560.3,274.2 560.3,274.2 C560.3,274.2 562.3,274.5 562.3,274.5 C562.3,274.5 564.3,275.0 564.3,275.0 C564.3,275.0 566.3,274.3 566.3,274.3 C566.3,274.3 568.4,274.7 568.4,274.7 C568.4,274.7 570.4,274.3 570.4,274.3 C570.4,274.3 572.4,274.3 572.4,274.3 C572.4,274.3 574.4,274.8 574.4,274.8 C574.4,274.8 576.5,274.5 576.5,274.5 C576.5,274.5 578.5,274.3 578.5,274.3 C578.5,274.3 580.5,274.5 580.5,274.5 C580.5,274.5 582.6,274.9 582.6,274.9 C582.6,274.9 584.6,274.9 584.6,274.9 C584.6,274.9 586.6,274.4 586.6,274.4 C586.6,274.4 588.6,274.6 588.6,274.6 C588.6,274.6 590.7,275.3 590.7,275.3 C590.7,275.3 592.7,274.7 592.7,274.7 C592.7,274.7 594.7,275.0 594.7,275.0 C594.7,275.0 596.7,274.9 596.7,274.9 C596.7,274.9 598.8,275.2 598.8,275.2 C598.8,275.2 600.8,275.1 600.8,275.1 C600.8,275.1 602.8,275.3 602.8,275.3 C602.8,275.3 604.8,275.1 604.8,275.1 C604.8,275.1 606.9,274.8 606.9,274.8 C606.9,274.8 608.9,274.8 608.9,274.8 C608.9,274.8 610.9,274.8 610.9,274.8 C610.9,274.8 612.9,275.4 612.9,275.4 C612.9,275.4 615.0,274.8 615.0,274.8 C615.0,274.8 617.0,275.2 617.0,275.2" fill="none" stroke="#00ee00" stroke-width="2" stroke-linejoin="round" stroke-linecap="butt"/><path d="M130.5,307.6 L133.5,307.6" fill="none" stroke="#00ee00" stroke-width="2" stroke-linejoin="round" stroke-linecap="butt"/><path d="M67.5 30V387 M617.5 30V387 M63 383.5H619" stroke="#5a5a5a" stroke-width="1" fill="none"/><rect x="67" y="383" width="550" height="1" fill="#6a206a"/><path d="M64.5 31L67.5 25.5L70.5 31Z M614.5 31L617.5 25.5L620.5 31Z M619 380.5L625 383.5L619 386.5Z" fill="#801414"/><g font-family="Liberation Mono" font-size="11.4" fill="#000"><text x="54.40" y="387.0" textLength="6.20" lengthAdjust="spacing">0</text><text x="648.70" y="387.0" textLength="6.20" lengthAdjust="spacing">0</text><text x="48.20" y="353.0" textLength="12.40" lengthAdjust="spacing">10</text><text x="642.50" y="353.0" textLength="12.40" lengthAdjust="spacing">10</text><text x="48.20" y="319.0" textLength="12.40" lengthAdjust="spacing">20</text><text x="642.50" y="319.0" textLength="12.40" lengthAdjust="spacing">20</text><text x="48.20" y="285.0" textLength="12.40" lengthAdjust="spacing">30</text><text x="642.50" y="285.0" textLength="12.40" lengthAdjust="spacing">30</text><text x="48.20" y="251.0" textLength="12.40" lengthAdjust="spacing">40</text><text x="642.50" y="251.0" textLength="12.40" lengthAdjust="spacing">40</text><text x="48.20" y="217.0" textLength="12.40" lengthAdjust="spacing">50</text><text x="642.50" y="217.0" textLength="12.40" lengthAdjust="spacing">50</text><text x="48.20" y="183.0" textLength="12.40" lengthAdjust="spacing">60</text><text x="642.50" y="183.0" textLength="12.40" lengthAdjust="spacing">60</text><text x="48.20" y="149.0" textLength="12.40" lengthAdjust="spacing">70</text><text x="642.50" y="149.0" textLength="12.40" lengthAdjust="spacing">70</text><text x="48.20" y="115.0" textLength="12.40" lengthAdjust="spacing">80</text><text x="642.50" y="115.0" textLength="12.40" lengthAdjust="spacing">80</text><text x="48.20" y="81.0" textLength="12.40" lengthAdjust="spacing">90</text><text x="642.50" y="81.0" textLength="12.40" lengthAdjust="spacing">90</text><text x="42.00" y="47.0" textLength="18.60" lengthAdjust="spacing">100</text><text x="636.30" y="47.0" textLength="18.60" lengthAdjust="spacing">100</text><text x="44.53" y="398" textLength="55.80" lengthAdjust="spacing" xml:space="preserve">Tue 00:00</text><text x="182.03" y="398" textLength="55.80" lengthAdjust="spacing" xml:space="preserve">Tue 06:00</text><text x="319.53" y="398" textLength="55.80" lengthAdjust="spacing" xml:space="preserve">Tue 12:00</text><text x="457.03" y="398" textLength="55.80" lengthAdjust="spacing" xml:space="preserve">Tue 18:00</text></g><text x="18.3" y="207.4" font-family="Liberation Mono" font-size="11.8" transform="rotate(-90 18.3 207.4)" text-anchor="middle">C</text><text x="98.3" y="21" font-family="Liberation Mono" font-size="13.33" fill="#000">Temperaturverlauf und Fuellstand am: 18.10.2022, Stand 23:45Uhr</text><text x="686" y="6.6" font-family="Liberation Mono" font-size="8.4" fill="#bcbcbc" transform="rotate(90 686 6.6)" textLength="109" lengthAdjust="spacing" xml:space="preserve">RRDTOOL / TOBI OETIKER</text><g font-family="Liberation Mono" font-size="11.8" fill="#000"><rect x="16.5" y="407.5" width="8" height="8" fill="#ff0000" stroke="#000" stroke-width="1"/><rect x="115.0" y="407.5" width="8" height="8" fill="#000080" stroke="#000" stroke-width="1"/><rect x="220.0" y="407.5" width="8" height="8" fill="#ff99cc" stroke="#000" stroke-width="1"/><rect x="338.8" y="407.5" width="8" height="8" fill="#0000ff" stroke="#000" stroke-width="1"/><rect x="471.8" y="407.5" width="8" height="8" fill="#a00000" stroke="#000" stroke-width="1"/><rect x="584.3" y="407.5" width="8" height="8" fill="#800080" stroke="#000" stroke-width="1"/><rect x="16.5" y="421.5" width="8" height="8" fill="#ff00ff" stroke="#000" stroke-width="1"/><rect x="125.0" y="421.5" width="8" height="8" fill="#0000ff" stroke="#000" stroke-width="1"/><rect x="247.3" y="421.5" width="8" height="8" fill="#ff00ff" stroke="#000" stroke-width="1"/><rect x="369.4" y="421.5" width="8" height="8" fill="#808080" stroke="#000" stroke-width="1"/><rect x="483.7" y="421.5" width="8" height="8" fill="#cccc00" stroke="#000" stroke-width="1"/><rect x="599.3" y="421.5" width="8" height="8" fill="#ff0000" stroke="#000" stroke-width="1"/><rect x="16.5" y="435.5" width="8" height="8" fill="#00ff00" stroke="#000" stroke-width="1"/><text x="30.24" y="415" textLength="62.55" lengthAdjust="spacing" xml:space="preserve">VL Kessel</text><text x="127.37" y="415" textLength="62.55" lengthAdjust="spacing" xml:space="preserve">RL Kessel</text><text x="233.34" y="415" textLength="69.50" lengthAdjust="spacing" xml:space="preserve">VL Heizung</text><text x="351.27" y="415" textLength="69.50" lengthAdjust="spacing" xml:space="preserve">RL Heizung</text><text x="484.47" y="415" textLength="76.45" lengthAdjust="spacing" xml:space="preserve">Puffer Oben</text><text x="596.37" y="415" textLength="83.40" lengthAdjust="spacing" xml:space="preserve">Puffer Mitte</text><text x="28.93" y="429" textLength="76.45" lengthAdjust="spacing" xml:space="preserve">Luftfeuchte</text><text x="138.30" y="429" textLength="90.35" lengthAdjust="spacing" xml:space="preserve">AT&gt;5C, FS AUS</text><text x="260.60" y="429" textLength="90.35" lengthAdjust="spacing" xml:space="preserve">AT&lt;2C, FS EIN</text><text x="381.77" y="429" textLength="83.40" lengthAdjust="spacing" xml:space="preserve">Kessel-P AUS</text><text x="496.37" y="429" textLength="83.40" lengthAdjust="spacing" xml:space="preserve">Kessel-P EIN</text><text x="611.47" y="429" textLength="69.50" lengthAdjust="spacing" xml:space="preserve">Heiz-P AUS</text><text x="29.37" y="443" textLength="69.50" lengthAdjust="spacing" xml:space="preserve">Heiz-P EIN</text><text x="119.66" y="443" textLength="83.40" lengthAdjust="spacing" xml:space="preserve">akt.rH: 0.00</text><text x="223.66" y="443" textLength="97.30" lengthAdjust="spacing" xml:space="preserve">akt.AT:13.03 C</text><text x="342.33" y="443" textLength="125.10" lengthAdjust="spacing" xml:space="preserve">min/maxAT24h:12.56</text><text x="471.94" y="443" textLength="41.70" lengthAdjust="spacing" xml:space="preserve">/16.81</text><text x="533.86" y="443" textLength="104.25" lengthAdjust="spacing" xml:space="preserve">akt.Fuellstand:</text><text x="659.41" y="443" textLength="13.90" lengthAdjust="spacing" xml:space="preserve">42</text><text x="16.30" y="457" textLength="111.20" lengthAdjust="spacing" xml:space="preserve">Aquarium: -nan C</text><text x="143.83" y="457" textLength="132.05" lengthAdjust="spacing" xml:space="preserve">min/max: -nan/ -nan</text></g></svg></body></html>
